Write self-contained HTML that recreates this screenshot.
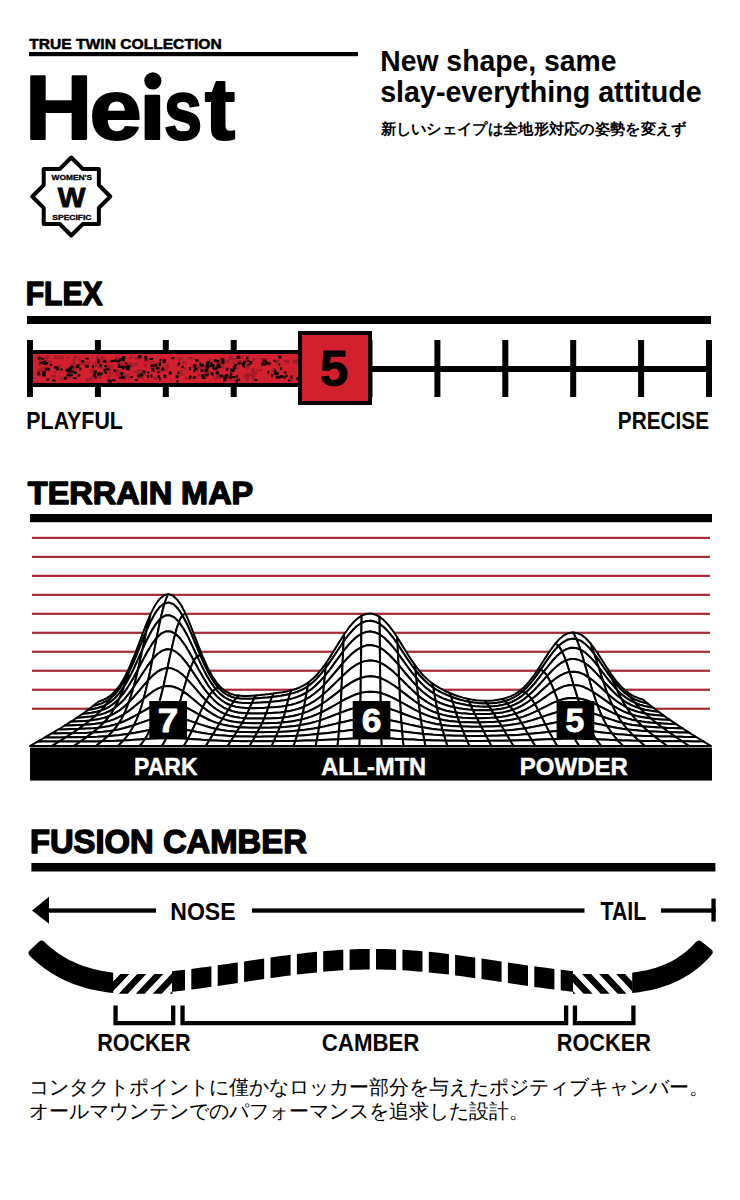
<!DOCTYPE html>
<html><head><meta charset="utf-8"><style>
html,body{margin:0;padding:0;background:#fff;}
svg{display:block;}
text{font-family:"Liberation Sans",sans-serif;}
</style></head><body>
<svg width="740" height="1200" viewBox="0 0 740 1200">
<rect width="740" height="1200" fill="#fff"/>
<rect x="29" y="52" width="329" height="4.2"/>
<text x="380.2" y="71.3" font-size="28.6" font-weight="bold" textLength="236.4" lengthAdjust="spacingAndGlyphs">New shape, same</text>
<text x="380.2" y="101.6" font-size="28.6" font-weight="bold" textLength="321.4" lengthAdjust="spacingAndGlyphs">slay-everything attitude</text>
<text x="380.5" y="134" font-size="15" font-weight="bold" textLength="306" lengthAdjust="spacingAndGlyphs">新しいシェイプは全地形対応の姿勢を変えず</text>
<path d="M71.30,157.50 L59.88,168.92 L43.72,168.92 L43.72,185.08 L32.30,196.50 L43.72,207.92 L43.72,224.08 L59.88,224.08 L71.30,235.50 L82.72,224.08 L98.88,224.08 L98.88,207.92 L110.30,196.50 L98.88,185.08 L98.88,168.92 L82.72,168.92Z" fill="#fff" stroke="#000" stroke-width="4" stroke-linejoin="round"/>
<rect x="27" y="316" width="684" height="8"/>
<rect x="27" y="366" width="684" height="6"/>
<rect x="27.0" y="340" width="6" height="57"/>
<rect x="94.9" y="340" width="6" height="57"/>
<rect x="162.8" y="340" width="6" height="57"/>
<rect x="230.7" y="340" width="6" height="57"/>
<rect x="298.6" y="340" width="6" height="57"/>
<rect x="366.5" y="340" width="6" height="57"/>
<rect x="434.4" y="340" width="6" height="57"/>
<rect x="502.3" y="340" width="6" height="57"/>
<rect x="570.2" y="340" width="6" height="57"/>
<rect x="638.1" y="340" width="6" height="57"/>
<rect x="706.0" y="340" width="6" height="57"/>
<rect x="27" y="350" width="275" height="37"/>
<rect x="33" y="354" width="270" height="29" fill="#d3202e"/>
<path d="M73.8 355.4h4.0v2.9h-4.0zM149.7 361.0h5.2v2.1h-5.2zM271.7 368.1h4.2v3.6h-4.2zM96.3 358.4h3.2v2.1h-3.2zM116.4 369.3h4.1v2.5h-4.1zM188.2 357.0h5.3v2.3h-5.3zM100.8 358.7h4.8v3.7h-4.8zM240.1 356.4h3.6v2.7h-3.6zM90.7 377.3h2.2v3.0h-2.2zM233.5 377.7h2.6v2.9h-2.6zM229.2 355.9h3.0v3.8h-3.0zM71.1 364.0h3.2v2.8h-3.2zM54.0 355.8h6.0v3.5h-6.0zM226.3 360.3h3.0v3.1h-3.0zM97.3 365.6h5.7v2.7h-5.7zM122.3 377.6h4.4v2.1h-4.4zM139.6 369.9h2.2v2.7h-2.2zM216.0 374.9h4.4v3.8h-4.4zM155.2 364.0h5.4v2.8h-5.4zM238.7 360.0h3.4v2.4h-3.4zM178.0 358.8h2.8v2.4h-2.8zM156.5 362.1h3.8v4.0h-3.8zM211.9 374.8h2.8v2.8h-2.8zM53.1 370.9h3.5v2.5h-3.5zM38.9 359.2h3.0v2.8h-3.0zM276.0 371.4h3.1v2.7h-3.1zM74.2 376.5h3.4v3.5h-3.4zM223.5 375.9h2.1v2.6h-2.1zM134.7 356.9h5.5v2.7h-5.5zM235.9 366.9h2.2v2.8h-2.2zM96.4 355.9h2.6v3.2h-2.6zM42.3 362.2h3.7v3.1h-3.7zM69.6 371.3h3.0v3.5h-3.0zM208.5 358.4h2.8v2.6h-2.8zM220.7 364.3h3.5v3.7h-3.5zM93.2 361.7h3.4v2.4h-3.4zM44.7 355.6h4.5v3.1h-4.5zM245.9 377.4h3.2v3.3h-3.2zM274.8 360.0h4.8v3.3h-4.8zM284.2 375.0h2.9v3.3h-2.9zM57.6 364.8h3.6v2.1h-3.6zM134.4 362.5h4.0v2.6h-4.0zM75.6 364.3h3.9v2.3h-3.9zM208.3 360.5h2.4v2.7h-2.4zM144.6 358.5h4.3v3.4h-4.3zM178.9 371.1h2.1v2.8h-2.1zM129.4 356.4h3.6v2.1h-3.6zM163.8 368.5h3.9v2.7h-3.9zM100.4 355.5h3.4v3.8h-3.4zM182.2 361.0h4.7v2.4h-4.7zM156.9 369.2h5.8v2.7h-5.8zM185.0 376.7h5.1v3.3h-5.1zM196.7 364.5h3.7v2.6h-3.7zM251.4 375.2h3.5v3.8h-3.5zM44.0 358.1h4.0v2.6h-4.0zM128.4 377.5h2.6v2.4h-2.6zM93.9 370.6h2.9v2.0h-2.9zM176.5 364.1h3.0v3.0h-3.0zM204.3 367.6h4.5v3.1h-4.5zM251.7 377.3h3.3v2.7h-3.3zM266.2 362.2h4.9v3.4h-4.9zM213.9 377.2h5.3v2.3h-5.3zM196.9 366.3h4.3v2.7h-4.3zM108.9 372.2h4.1v2.5h-4.1zM99.3 362.5h2.7v3.0h-2.7zM67.0 356.5h2.3v2.2h-2.3zM218.7 357.6h3.8v3.5h-3.8zM159.9 358.7h5.5v3.7h-5.5zM48.0 360.8h4.0v3.6h-4.0zM136.8 371.5h3.0v3.4h-3.0zM119.6 362.7h5.0v3.7h-5.0zM251.1 368.1h3.7v3.4h-3.7zM197.2 374.1h5.2v2.3h-5.2zM132.8 370.4h2.9v2.4h-2.9zM37.6 368.5h5.8v3.9h-5.8zM69.0 370.8h3.7v3.3h-3.7zM137.9 376.5h6.0v2.1h-6.0zM220.9 357.7h2.2v2.6h-2.2zM225.6 377.9h2.5v2.7h-2.5zM40.9 367.5h3.9v2.7h-3.9zM115.0 373.4h5.4v2.6h-5.4zM136.6 369.2h5.1v4.0h-5.1zM136.0 371.0h4.2v3.6h-4.2zM72.5 359.0h2.4v3.9h-2.4zM99.9 366.2h2.5v2.6h-2.5zM39.0 368.0h2.6v3.3h-2.6zM105.8 360.2h3.9v2.7h-3.9zM102.0 356.2h2.3v3.8h-2.3zM115.0 356.8h2.7v3.0h-2.7zM295.3 359.7h5.5v3.0h-5.5zM142.6 373.6h3.6v2.1h-3.6zM178.2 370.1h4.5v2.6h-4.5zM280.0 374.9h6.0v2.9h-6.0zM252.4 371.7h2.7v2.1h-2.7zM78.2 357.7h2.3v2.7h-2.3zM231.4 362.1h4.1v2.0h-4.1zM89.1 377.1h2.0v3.1h-2.0zM246.2 373.2h4.9v2.8h-4.9zM244.4 374.0h5.1v4.0h-5.1zM60.4 376.9h3.6v3.4h-3.6zM99.6 375.9h2.1v3.2h-2.1zM93.5 363.9h3.5v3.3h-3.5zM246.4 363.4h4.6v2.7h-4.6zM107.2 375.8h3.3v2.2h-3.3zM121.7 372.1h2.8v3.5h-2.8zM177.1 370.6h2.7v2.2h-2.7zM71.5 363.1h3.7v2.0h-3.7zM165.7 364.3h3.3v3.1h-3.3zM283.5 359.7h5.5v2.6h-5.5zM231.6 357.5h6.0v2.9h-6.0zM286.2 360.1h3.6v3.4h-3.6zM80.6 361.3h4.7v3.9h-4.7zM118.4 359.2h3.4v4.0h-3.4zM72.8 369.6h3.5v3.3h-3.5zM89.6 369.2h5.6v3.7h-5.6zM198.7 366.6h4.3v2.2h-4.3zM253.4 370.9h3.8v3.3h-3.8zM143.9 363.8h2.9v3.2h-2.9zM184.1 366.9h2.1v3.3h-2.1zM151.1 368.6h4.4v3.9h-4.4zM73.8 365.8h6.0v3.5h-6.0zM116.0 371.9h6.0v2.8h-6.0zM261.3 357.9h6.0v3.0h-6.0zM95.3 374.3h4.6v3.9h-4.6zM251.3 373.3h4.0v4.0h-4.0zM51.0 375.0h4.8v2.5h-4.8zM245.5 365.4h4.1v3.7h-4.1zM85.3 361.4h4.6v2.1h-4.6zM179.4 373.1h4.0v2.5h-4.0zM243.6 374.7h5.1v3.1h-5.1zM271.3 373.3h2.6v2.7h-2.6zM60.3 355.8h3.4v3.7h-3.4zM252.5 357.7h2.7v2.8h-2.7zM256.5 369.2h5.6v2.1h-5.6zM292.8 359.8h4.5v3.8h-4.5zM224.6 359.5h4.7v2.9h-4.7zM38.0 362.8h3.3v3.3h-3.3zM107.0 368.9h4.8v2.4h-4.8zM67.5 371.0h3.9v2.3h-3.9zM64.4 376.6h4.4v2.7h-4.4zM85.4 377.9h4.8v3.5h-4.8zM128.4 362.1h3.6v2.3h-3.6zM199.4 364.8h5.3v2.8h-5.3zM153.7 366.6h5.8v2.7h-5.8zM218.3 360.4h4.3v2.6h-4.3zM262.6 361.6h5.4v3.4h-5.4zM153.2 376.5h3.6v3.5h-3.6zM191.5 365.3h2.3v2.8h-2.3zM107.7 365.1h5.8v2.6h-5.8zM216.1 370.5h3.0v2.8h-3.0zM68.6 375.6h3.0v2.8h-3.0zM123.5 373.9h5.4v3.2h-5.4zM177.0 357.3h5.6v2.2h-5.6zM129.3 363.6h4.9v3.3h-4.9zM124.1 375.7h5.8v2.0h-5.8zM199.8 365.8h3.4v2.9h-3.4zM116.8 370.4h4.4v3.9h-4.4zM289.8 377.8h3.6v3.7h-3.6zM204.3 371.1h6.0v2.1h-6.0zM155.1 364.2h4.6v2.4h-4.6z" fill="#7a1c22" opacity="0.55"/>
<path d="M147.0 371.6h2.5v2.5h-2.5zM156.0 366.7h3.5v2.5h-3.5zM157.3 371.3h2.0v2.0h-2.0zM151.2 368.2h3.0v2.5h-3.0zM201.7 376.8h2.5v2.0h-2.5zM234.2 364.0h3.0v2.0h-3.0zM237.6 361.7h3.0v3.0h-3.0zM296.5 377.4h2.5v3.0h-2.5zM37.5 373.4h3.0v2.0h-3.0zM45.2 367.5h2.5v3.0h-2.5zM47.9 367.8h2.0v3.0h-2.0zM49.8 364.1h2.5v2.0h-2.5zM54.2 365.9h3.0v2.5h-3.0zM221.5 360.9h3.0v3.0h-3.0zM217.8 363.4h2.5v2.0h-2.5zM107.5 379.3h2.5v3.0h-2.5zM112.1 379.2h3.5v2.0h-3.5zM108.9 379.8h3.0v3.0h-3.0zM37.3 371.8h2.5v2.5h-2.5zM42.3 371.3h3.5v3.0h-3.5zM42.2 373.9h3.5v2.5h-3.5zM262.0 363.2h3.5v2.5h-3.5zM262.7 359.5h3.5v2.5h-3.5zM212.7 364.0h2.0v2.0h-2.0zM225.9 367.8h2.5v3.0h-2.5zM215.7 371.5h3.5v3.0h-3.5zM215.3 367.7h2.0v2.5h-2.0zM94.2 376.4h2.5v2.0h-2.5zM56.4 367.2h3.0v2.5h-3.0zM55.9 367.4h3.0v3.0h-3.0zM200.5 369.3h3.0v3.0h-3.0zM205.0 365.6h2.0v2.0h-2.0zM163.4 374.7h3.0v3.0h-3.0zM161.6 367.4h2.5v3.0h-2.5zM158.7 377.5h2.0v3.0h-2.0zM278.4 355.8h3.0v3.0h-3.0zM278.6 355.7h2.0v2.0h-2.0zM130.7 376.0h2.0v2.0h-2.0zM137.1 375.1h2.0v2.5h-2.0zM139.7 373.5h3.5v3.0h-3.5zM137.7 374.4h3.0v2.5h-3.0zM213.8 358.9h3.0v3.0h-3.0zM216.4 360.0h3.0v2.5h-3.0zM205.0 373.5h3.5v3.0h-3.5zM202.7 377.0h3.0v2.0h-3.0zM223.2 377.5h3.0v3.0h-3.0zM229.1 376.3h3.0v3.0h-3.0zM219.4 374.6h3.5v3.0h-3.5zM120.7 375.4h3.0v3.0h-3.0zM122.1 376.3h3.0v2.5h-3.0zM43.8 370.8h2.0v3.0h-2.0zM46.3 378.4h3.0v2.0h-3.0zM215.1 366.3h3.0v2.0h-3.0zM216.7 363.7h3.0v2.5h-3.0zM209.8 364.9h2.5v2.0h-2.5zM208.2 365.0h3.0v2.5h-3.0zM150.3 364.2h3.5v3.0h-3.5zM164.0 375.5h2.0v2.5h-2.0zM157.7 375.0h2.0v3.0h-2.0zM176.2 379.9h2.0v3.0h-2.0zM175.6 375.2h3.0v3.0h-3.0zM177.2 371.7h2.0v2.5h-2.0zM249.7 360.9h2.5v3.0h-2.5zM79.3 367.7h2.0v2.5h-2.0zM70.2 370.3h3.5v2.5h-3.5zM67.3 368.1h3.5v3.0h-3.5zM73.5 371.6h3.5v2.5h-3.5zM113.4 359.4h3.5v2.0h-3.5zM110.3 360.2h2.0v2.0h-2.0zM111.7 359.9h3.5v2.0h-3.5zM168.7 371.5h3.0v3.0h-3.0zM93.8 370.6h3.0v3.0h-3.0zM103.8 370.3h2.0v3.0h-2.0zM105.3 372.1h2.0v2.0h-2.0zM85.2 364.8h3.5v3.0h-3.5zM92.0 365.2h2.0v3.0h-2.0zM85.6 357.7h3.0v2.0h-3.0zM126.7 365.1h3.5v2.5h-3.5zM126.8 365.4h3.5v2.5h-3.5zM99.8 372.5h3.0v2.5h-3.0zM98.6 373.0h2.5v2.5h-2.5zM217.6 365.8h3.5v2.5h-3.5zM92.8 373.7h3.0v3.0h-3.0zM60.2 368.6h2.5v2.0h-2.5zM65.4 368.7h3.5v3.0h-3.5zM67.8 370.2h2.5v2.5h-2.5zM254.3 379.0h3.0v2.0h-3.0zM233.0 365.8h2.5v3.0h-2.5zM242.6 364.9h2.5v2.5h-2.5zM233.2 366.1h3.0v3.0h-3.0zM241.2 362.6h2.0v2.0h-2.0zM118.5 358.1h3.5v3.0h-3.5zM121.9 356.8h2.0v2.5h-2.0zM122.4 356.1h3.0v3.0h-3.0zM143.3 371.2h2.0v2.0h-2.0zM206.0 363.2h3.0v3.0h-3.0zM206.6 361.1h3.0v2.0h-3.0zM212.0 365.7h2.5v3.0h-2.5zM206.1 366.0h2.5v3.0h-2.5zM43.0 360.8h3.5v3.0h-3.5zM43.9 362.1h2.0v3.0h-2.0zM39.4 361.8h3.5v2.0h-3.5zM134.8 378.9h3.0v2.0h-3.0zM159.2 358.9h2.0v2.0h-2.0zM163.4 359.3h2.5v3.0h-2.5zM162.7 360.2h3.0v3.0h-3.0zM52.1 379.4h3.5v2.0h-3.5zM287.8 379.6h2.5v2.0h-2.5zM285.5 374.6h2.0v2.5h-2.0zM284.0 371.5h2.5v2.0h-2.5zM280.1 374.9h3.0v3.0h-3.0zM189.1 375.4h2.5v3.0h-2.5zM193.2 369.5h2.0v3.0h-2.0zM194.7 367.6h3.0v3.0h-3.0zM192.7 376.2h3.5v2.5h-3.5zM206.4 373.3h2.5v2.0h-2.5zM201.5 374.0h3.0v3.0h-3.0zM41.5 357.6h2.0v2.5h-2.0zM37.7 356.5h3.0v3.0h-3.0zM159.2 361.9h2.0v2.0h-2.0zM154.4 363.7h2.5v3.0h-2.5zM158.6 362.9h2.5v3.0h-2.5zM77.4 374.5h3.0v2.0h-3.0zM72.8 376.9h3.5v2.0h-3.5zM147.1 375.0h2.0v3.0h-2.0zM150.5 374.4h2.0v3.0h-2.0zM142.4 370.2h3.0v3.0h-3.0zM151.3 368.6h3.0v3.0h-3.0zM265.3 361.6h3.0v3.0h-3.0zM261.2 362.6h3.0v3.0h-3.0zM275.3 372.2h3.5v2.5h-3.5zM279.9 367.3h2.0v3.0h-2.0zM213.1 367.6h3.0v2.5h-3.0zM216.0 367.1h2.5v2.0h-2.5zM235.9 375.3h2.0v2.5h-2.0zM225.3 374.0h3.0v2.0h-3.0zM231.9 376.0h3.5v2.0h-3.5zM125.0 362.5h2.5v2.0h-2.5zM230.3 368.5h3.5v3.0h-3.5zM231.8 368.9h3.0v3.0h-3.0zM209.9 361.9h3.0v3.0h-3.0zM267.3 370.7h2.0v3.0h-2.0zM229.9 372.4h2.5v2.5h-2.5zM225.9 375.3h2.5v3.0h-2.5zM223.2 378.5h3.0v3.0h-3.0zM223.4 375.3h3.0v2.0h-3.0zM121.2 357.9h2.0v3.0h-2.0zM116.4 360.1h2.0v2.5h-2.0zM80.7 360.0h3.5v2.5h-3.5zM76.4 364.3h3.0v2.5h-3.0zM277.4 375.8h3.0v3.0h-3.0zM270.9 374.2h2.0v3.0h-2.0zM277.2 376.3h2.5v2.5h-2.5zM275.8 375.8h3.5v3.0h-3.5zM246.0 356.5h2.5v3.0h-2.5zM195.1 359.0h3.5v2.5h-3.5zM103.6 368.5h2.5v2.5h-2.5zM106.6 368.2h3.0v2.0h-3.0zM274.2 371.9h3.5v3.0h-3.5zM42.5 360.7h3.0v2.5h-3.0zM45.0 362.0h3.0v2.5h-3.0zM283.2 376.4h2.5v2.0h-2.5zM210.6 372.2h3.0v3.0h-3.0zM99.3 364.1h2.5v2.5h-2.5zM97.2 372.8h3.5v3.0h-3.5zM104.7 368.5h3.5v2.0h-3.5zM98.1 372.0h2.0v3.0h-2.0zM116.6 360.6h3.0v2.0h-3.0zM121.6 365.8h2.5v2.5h-2.5zM118.9 366.1h3.0v2.0h-3.0zM118.0 363.8h2.0v3.0h-2.0zM144.6 357.9h2.5v2.5h-2.5zM144.3 356.0h3.0v3.0h-3.0zM138.0 355.3h3.5v3.0h-3.5zM149.6 358.1h3.5v2.0h-3.5zM103.2 360.2h3.0v2.5h-3.0zM97.3 361.0h2.0v2.5h-2.0zM104.2 365.1h3.0v2.5h-3.0zM126.0 367.6h3.5v2.5h-3.5zM127.5 368.2h2.5v2.0h-2.5zM70.5 365.5h3.0v3.0h-3.0zM69.7 368.3h2.5v2.5h-2.5zM75.8 365.9h3.5v2.0h-3.5zM68.8 367.1h3.0v2.5h-3.0zM66.6 373.3h3.5v3.0h-3.5zM69.4 374.3h3.5v2.0h-3.5zM64.2 376.8h2.5v3.0h-2.5zM229.8 373.6h2.0v2.5h-2.0zM235.5 379.7h2.5v3.0h-2.5zM237.1 378.6h3.0v2.5h-3.0zM121.8 366.6h3.0v3.0h-3.0zM200.3 363.8h3.5v3.0h-3.5zM193.3 364.3h3.0v3.0h-3.0zM194.1 366.5h2.0v3.0h-2.0zM189.0 367.3h2.0v3.0h-2.0zM273.1 359.8h3.0v2.0h-3.0zM274.0 369.6h2.5v3.0h-2.5zM278.2 363.2h2.0v2.5h-2.0zM268.1 362.6h2.5v2.0h-2.5zM298.8 371.8h3.0v2.0h-3.0zM246.6 359.9h3.0v2.0h-3.0zM242.9 360.8h3.0v3.0h-3.0zM247.5 363.4h2.5v2.0h-2.5zM242.1 362.9h3.0v3.0h-3.0zM122.9 358.9h2.0v2.5h-2.0zM117.8 365.7h3.0v2.0h-3.0zM124.9 365.7h3.5v2.5h-3.5zM118.1 359.8h2.0v2.0h-2.0zM120.5 372.3h2.5v3.0h-2.5zM113.1 369.1h3.0v3.0h-3.0zM118.7 376.8h3.0v2.0h-3.0zM221.3 358.0h3.0v3.0h-3.0zM218.1 364.7h2.0v2.5h-2.0zM290.4 375.5h2.0v3.0h-2.0zM296.3 377.3h3.5v2.0h-3.5zM171.0 357.3h3.5v2.0h-3.5zM181.2 365.7h2.5v2.5h-2.5zM177.9 362.5h2.0v2.5h-2.0zM236.7 355.8h3.5v3.0h-3.5zM206.0 361.7h3.5v2.5h-3.5zM199.3 362.4h2.0v3.0h-2.0zM205.4 368.5h3.0v2.5h-3.0zM204.7 369.0h3.5v3.0h-3.5zM97.2 359.0h2.5v3.0h-2.5z" fill="#160606"/>
<rect x="298" y="331" width="74" height="74"/>
<rect x="302" y="335" width="66" height="66" fill="#d3202e"/>
<rect x="30" y="514" width="682" height="8.2"/>
<rect x="32" y="536.80" width="678" height="2.2" fill="#a82a36"/>
<rect x="32" y="555.78" width="678" height="2.2" fill="#a82a36"/>
<rect x="32" y="574.76" width="678" height="2.2" fill="#a82a36"/>
<rect x="32" y="593.74" width="678" height="2.2" fill="#a82a36"/>
<rect x="32" y="612.72" width="678" height="2.2" fill="#a82a36"/>
<rect x="32" y="631.70" width="678" height="2.2" fill="#a82a36"/>
<rect x="32" y="650.68" width="678" height="2.2" fill="#a82a36"/>
<rect x="32" y="669.66" width="678" height="2.2" fill="#a82a36"/>
<rect x="32" y="688.64" width="678" height="2.2" fill="#a82a36"/>
<rect x="32" y="707.62" width="678" height="2.2" fill="#a82a36"/>
<g fill="#fff" stroke="#000" stroke-width="2.0" stroke-linejoin="round"><path d="M93.0 706.1L97.5 704.9L101.9 703.4L106.4 701.2L110.9 698.1L112.1 696.3L113.3 694.5L114.5 692.6L115.6 690.7L111.2 695.0L106.8 698.1L102.4 700.3L98.0 701.9L96.8 703.0L95.5 704.0L94.3 705.0Z"/><path d="M630.1 696.9L634.6 699.4L639.1 701.2L643.5 702.6L648.0 703.7L646.7 702.7L645.5 701.7L644.2 700.6L643.0 699.6L638.6 698.2L634.2 696.3L629.8 693.8L625.4 690.5L626.5 692.1L627.7 693.8L628.9 695.4Z"/><path d="M110.9 698.1L115.4 693.9L119.8 688.4L124.3 681.4L128.8 672.9L129.9 669.3L131.0 665.7L132.1 662.1L133.2 658.5L128.8 668.8L124.4 677.7L120.0 685.0L115.6 690.7L114.5 692.6L113.3 694.5L112.1 696.3Z"/><path d="M612.2 679.5L616.7 685.0L621.2 689.8L625.6 693.8L630.1 696.9L628.9 695.4L627.7 693.8L626.5 692.1L625.4 690.5L621.0 686.4L616.6 681.5L612.2 675.7L607.8 669.2L608.9 671.7L610.0 674.3L611.1 676.9Z"/><path d="M128.8 672.9L133.3 663.0L137.8 652.2L142.2 641.0L146.7 630.2L147.7 625.7L148.8 621.4L149.8 617.3L150.8 613.6L146.4 623.9L142.0 635.4L137.6 647.2L133.2 658.5L132.1 662.1L131.0 665.7L129.9 669.3Z"/><path d="M594.3 654.0L598.8 660.2L603.2 666.8L607.7 673.3L612.2 679.5L611.1 676.9L610.0 674.3L608.9 671.7L607.8 669.2L603.4 662.3L599.0 655.4L594.6 648.8L590.2 643.0L591.2 645.5L592.2 648.2L593.3 651.0Z"/><path d="M146.7 630.2L151.2 620.4L155.7 612.4L160.1 606.7L164.6 603.4L165.6 600.5L166.5 598.0L167.4 595.9L168.3 594.2L164.0 595.3L159.6 598.9L155.2 605.0L150.8 613.6L149.8 617.3L148.8 621.4L147.7 625.7Z"/><path d="M576.4 639.1L580.9 640.9L585.3 644.1L589.8 648.5L594.3 654.0L593.3 651.0L592.2 648.2L591.2 645.5L590.2 643.0L585.8 638.3L581.4 634.9L577.0 633.0L572.7 632.4L573.6 633.7L574.5 635.3L575.4 637.1Z"/><path d="M164.6 603.4L169.1 602.6L173.6 604.4L178.0 608.8L182.5 615.5L183.4 614.7L184.2 614.3L185.1 614.2L185.9 614.4L181.5 605.8L177.1 599.4L172.7 595.5L168.3 594.2L167.4 595.9L166.5 598.0L165.6 600.5Z"/><path d="M558.5 646.0L563.0 642.3L567.4 639.8L571.9 638.8L576.4 639.1L575.4 637.1L574.5 635.3L573.6 633.7L572.7 632.4L568.3 633.2L563.9 635.3L559.5 638.9L555.1 643.8L555.9 644.1L556.8 644.5L557.6 645.2Z"/><path d="M182.5 615.5L187.0 624.2L191.5 634.3L195.9 645.1L200.4 655.9L201.2 656.3L202.0 656.8L202.7 657.6L203.5 658.5L199.1 647.6L194.7 636.1L190.3 624.8L185.9 614.4L185.1 614.2L184.2 614.3L183.4 614.7Z"/><path d="M540.6 669.9L545.1 663.3L549.5 656.9L554.0 651.0L558.5 646.0L557.6 645.2L556.8 644.5L555.9 644.1L555.1 643.8L550.7 649.8L546.3 656.4L541.9 663.3L537.5 670.1L538.3 669.9L539.0 669.8L539.8 669.7Z"/><path d="M200.4 655.9L204.9 665.9L209.4 674.7L213.8 682.1L218.3 687.8L219.0 687.7L219.7 687.7L220.4 687.7L221.1 687.7L216.7 682.9L212.3 676.3L207.9 668.2L203.5 658.5L202.7 657.6L202.0 656.8L201.2 656.3Z"/><path d="M522.7 691.5L527.2 687.2L531.6 682.1L536.1 676.2L540.6 669.9L539.8 669.7L539.0 669.8L538.3 669.9L537.5 670.1L533.1 676.5L528.7 682.1L524.3 686.9L519.9 690.8L520.6 690.9L521.3 691.1L522.0 691.3Z"/><path d="M218.3 687.8L222.8 692.1L227.3 695.0L231.7 697.0L236.2 698.1L236.8 697.4L237.5 696.7L238.1 696.2L238.7 695.6L234.3 694.9L229.9 693.5L225.5 691.2L221.1 687.7L220.4 687.7L219.7 687.7L219.0 687.7Z"/><path d="M504.8 701.2L509.3 699.7L513.7 697.7L518.2 695.0L522.7 691.5L522.0 691.3L521.3 691.1L520.6 690.9L519.9 690.8L515.5 693.8L511.1 696.1L506.7 697.8L502.3 699.0L502.9 699.5L503.5 700.1L504.2 700.6Z"/><path d="M236.2 698.1L240.7 698.7L245.2 698.8L249.7 698.8L254.1 698.5L254.7 697.6L255.2 696.8L255.7 696.0L256.2 695.4L251.8 695.7L247.5 695.9L243.1 695.9L238.7 695.6L238.1 696.2L237.5 696.7L236.8 697.4Z"/><path d="M486.9 703.5L491.3 703.3L495.8 702.9L500.3 702.2L504.8 701.2L504.2 700.6L503.5 700.1L502.9 699.5L502.3 699.0L497.9 699.8L493.5 700.4L489.2 700.7L484.8 700.7L485.3 701.4L485.8 702.1L486.3 702.7Z"/><path d="M254.1 698.5L258.6 698.2L263.1 697.8L267.6 697.4L272.0 696.9L272.5 695.9L272.9 695.0L273.4 694.1L273.8 693.4L269.4 694.0L265.0 694.5L260.6 694.9L256.2 695.4L255.7 696.0L255.2 696.8L254.7 697.6Z"/><path d="M469.0 701.8L473.4 702.6L477.9 703.1L482.4 703.4L486.9 703.5L486.3 702.7L485.8 702.1L485.3 701.4L484.8 700.7L480.4 700.6L476.0 700.2L471.6 699.6L467.2 698.7L467.6 699.4L468.1 700.2L468.5 701.0Z"/><path d="M272.0 696.9L276.5 696.4L281.0 695.8L285.5 695.0L289.9 694.1L290.3 693.0L290.7 692.0L291.0 691.1L291.4 690.3L287.0 691.4L282.6 692.2L278.2 692.8L273.8 693.4L273.4 694.1L272.9 695.0L272.5 695.9Z"/><path d="M451.1 696.7L455.5 698.3L460.0 699.7L464.5 700.9L469.0 701.8L468.5 701.0L468.1 700.2L467.6 699.4L467.2 698.7L462.8 697.6L458.4 696.3L454.0 694.7L449.6 693.0L450.0 693.7L450.3 694.6L450.7 695.6Z"/><path d="M289.9 694.1L294.4 692.9L298.9 691.2L303.4 689.1L307.8 686.4L308.1 685.1L308.4 683.9L308.7 682.9L309.0 682.0L304.6 684.9L300.2 687.2L295.8 689.0L291.4 690.3L291.0 691.1L290.7 692.0L290.3 693.0Z"/><path d="M433.2 687.6L437.6 690.5L442.1 692.8L446.6 694.9L451.1 696.7L450.7 695.6L450.3 694.6L450.0 693.7L449.6 693.0L445.2 691.0L440.8 688.7L436.4 686.2L432.0 683.2L432.3 684.1L432.6 685.1L432.9 686.3Z"/><path d="M307.8 686.4L312.3 682.9L316.8 678.7L321.3 673.7L325.7 667.9L325.9 666.3L326.2 664.8L326.4 663.4L326.6 662.3L322.2 668.4L317.8 673.7L313.4 678.2L309.0 682.0L308.7 682.9L308.4 683.9L308.1 685.1Z"/><path d="M415.3 670.1L419.7 675.5L424.2 680.3L428.7 684.3L433.2 687.6L432.9 686.3L432.6 685.1L432.3 684.1L432.0 683.2L427.6 679.6L423.2 675.3L418.8 670.2L414.4 664.4L414.6 665.6L414.8 667.0L415.1 668.4Z"/><path d="M325.7 667.9L330.2 661.6L334.7 655.0L339.2 648.2L343.6 641.6L343.8 639.5L343.9 637.7L344.0 636.0L344.1 634.5L339.7 641.4L335.3 648.5L330.9 655.6L326.6 662.3L326.4 663.4L326.2 664.8L325.9 666.3Z"/><path d="M397.4 643.8L401.8 650.6L406.3 657.4L410.8 664.0L415.3 670.1L415.1 668.4L414.8 667.0L414.6 665.6L414.4 664.4L410.1 658.0L405.7 651.0L401.3 643.9L396.9 636.9L397.0 638.3L397.1 640.0L397.2 641.8Z"/><path d="M343.6 641.6L348.1 635.5L352.6 630.3L357.1 626.0L361.5 623.0L361.6 620.8L361.6 618.9L361.7 617.1L361.7 615.6L357.3 618.6L352.9 622.8L348.5 628.2L344.1 634.5L344.0 636.0L343.9 637.7L343.8 639.5Z"/><path d="M379.5 623.9L383.9 627.3L388.4 631.9L392.9 637.5L397.4 643.8L397.2 641.8L397.1 640.0L397.0 638.3L396.9 636.9L392.5 630.3L388.1 624.6L383.7 620.0L379.3 616.6L379.3 618.1L379.4 619.8L379.4 621.7Z"/><path d="M361.5 623.0L366.0 621.3L370.5 620.8L375.0 621.7L379.5 623.9L379.4 621.7L379.4 619.8L379.3 618.1L379.3 616.6L374.9 614.4L370.5 613.6L366.1 614.0L361.7 615.6L361.7 617.1L361.6 618.9L361.6 620.8Z"/><path d="M87.8 710.1L92.3 709.3L96.9 708.3L101.4 706.8L106.0 704.8L107.2 703.2L108.5 701.6L109.7 699.9L110.9 698.1L106.4 701.2L101.9 703.4L97.5 704.9L93.0 706.1L91.7 707.1L90.4 708.1L89.1 709.1Z"/><path d="M635.0 702.9L639.6 704.7L644.1 706.0L648.7 707.0L653.2 707.8L651.9 706.8L650.6 705.7L649.3 704.7L648.0 703.7L643.5 702.6L639.1 701.2L634.6 699.4L630.1 696.9L631.3 698.5L632.5 700.0L633.8 701.5Z"/><path d="M106.0 704.8L110.6 701.9L115.1 698.0L119.7 692.9L124.2 686.4L125.4 683.2L126.5 679.8L127.7 676.4L128.8 672.9L124.3 681.4L119.8 688.4L115.4 693.9L110.9 698.1L109.7 699.9L108.5 701.6L107.2 703.2Z"/><path d="M616.8 689.7L621.3 694.1L625.9 697.7L630.4 700.7L635.0 702.9L633.8 701.5L632.5 700.0L631.3 698.5L630.1 696.9L625.6 693.8L621.2 689.8L616.7 685.0L612.2 679.5L613.3 682.1L614.5 684.7L615.6 687.2Z"/><path d="M124.2 686.4L128.8 678.6L133.4 669.6L137.9 659.7L142.5 649.5L143.6 644.6L144.6 639.7L145.7 634.9L146.7 630.2L142.2 641.0L137.8 652.2L133.3 663.0L128.8 672.9L127.7 676.4L126.5 679.8L125.4 683.2Z"/><path d="M598.5 667.0L603.1 673.0L607.6 679.0L612.2 684.6L616.8 689.7L615.6 687.2L614.5 684.7L613.3 682.1L612.2 679.5L607.7 673.3L603.2 666.8L598.8 660.2L594.3 654.0L595.3 657.1L596.4 660.4L597.4 663.7Z"/><path d="M142.5 649.5L147.0 639.7L151.6 630.9L156.2 623.6L160.7 618.5L161.7 614.2L162.7 610.2L163.7 606.6L164.6 603.4L160.1 606.7L155.7 612.4L151.2 620.4L146.7 630.2L145.7 634.9L144.6 639.7L143.6 644.6Z"/><path d="M580.3 649.5L584.8 652.3L589.4 656.4L594.0 661.4L598.5 667.0L597.4 663.7L596.4 660.4L595.3 657.1L594.3 654.0L589.8 648.5L585.3 644.1L580.9 640.9L576.4 639.1L577.3 641.4L578.3 643.9L579.3 646.6Z"/><path d="M160.7 618.5L165.3 615.6L169.8 615.3L174.4 617.5L179.0 622.1L179.9 619.9L180.8 618.1L181.6 616.6L182.5 615.5L178.0 608.8L173.6 604.4L169.1 602.6L164.6 603.4L163.7 606.6L162.7 610.2L161.7 614.2Z"/><path d="M562.0 651.7L566.6 649.1L571.2 647.8L575.7 648.0L580.3 649.5L579.3 646.6L578.3 643.9L577.3 641.4L576.4 639.1L571.9 638.8L567.4 639.8L563.0 642.3L558.5 646.0L559.4 647.1L560.2 648.4L561.1 649.9Z"/><path d="M179.0 622.1L183.5 628.7L188.1 637.1L192.6 646.6L197.2 656.5L198.0 656.0L198.8 655.7L199.6 655.7L200.4 655.9L195.9 645.1L191.5 634.3L187.0 624.2L182.5 615.5L181.6 616.6L180.8 618.1L179.9 619.9Z"/><path d="M543.8 671.7L548.4 665.8L552.9 660.3L557.5 655.5L562.0 651.7L561.1 649.9L560.2 648.4L559.4 647.1L558.5 646.0L554.0 651.0L549.5 656.9L545.1 663.3L540.6 669.9L541.4 670.1L542.2 670.5L543.0 671.0Z"/><path d="M197.2 656.5L201.8 666.1L206.3 675.0L210.9 682.7L215.5 689.0L216.2 688.6L216.9 688.2L217.6 688.0L218.3 687.8L213.8 682.1L209.4 674.7L204.9 665.9L200.4 655.9L199.6 655.7L198.8 655.7L198.0 656.0Z"/><path d="M525.5 693.0L530.1 688.5L534.7 683.4L539.2 677.7L543.8 671.7L543.0 671.0L542.2 670.5L541.4 670.1L540.6 669.9L536.1 676.2L531.6 682.1L527.2 687.2L522.7 691.5L523.4 691.8L524.1 692.2L524.8 692.6Z"/><path d="M215.5 689.0L220.0 693.9L224.6 697.4L229.1 699.9L233.7 701.5L234.3 700.6L235.0 699.7L235.6 698.9L236.2 698.1L231.7 697.0L227.3 695.0L222.8 692.1L218.3 687.8L217.6 688.0L216.9 688.2L216.2 688.6Z"/><path d="M507.3 703.7L511.9 702.0L516.4 699.7L521.0 696.7L525.5 693.0L524.8 692.6L524.1 692.2L523.4 691.8L522.7 691.5L518.2 695.0L513.7 697.7L509.3 699.7L504.8 701.2L505.4 701.8L506.0 702.4L506.7 703.0Z"/><path d="M233.7 701.5L238.3 702.4L242.8 702.9L247.4 703.1L251.9 703.0L252.5 701.8L253.0 700.7L253.6 699.6L254.1 698.5L249.7 698.8L245.2 698.8L240.7 698.7L236.2 698.1L235.6 698.9L235.0 699.7L234.3 700.6Z"/><path d="M489.1 706.6L493.6 706.3L498.2 705.8L502.7 704.9L507.3 703.7L506.7 703.0L506.0 702.4L505.4 701.8L504.8 701.2L500.3 702.2L495.8 702.9L491.3 703.3L486.9 703.5L487.4 704.2L488.0 705.0L488.5 705.8Z"/><path d="M251.9 703.0L256.5 702.8L261.1 702.6L265.6 702.3L270.2 701.9L270.6 700.5L271.1 699.3L271.6 698.0L272.0 696.9L267.6 697.4L263.1 697.8L258.6 698.2L254.1 698.5L253.6 699.6L253.0 700.7L252.5 701.8Z"/><path d="M470.8 705.7L475.4 706.2L479.9 706.5L484.5 706.7L489.1 706.6L488.5 705.8L488.0 705.0L487.4 704.2L486.9 703.5L482.4 703.4L477.9 703.1L473.4 702.6L469.0 701.8L469.4 702.8L469.9 703.7L470.4 704.7Z"/><path d="M270.2 701.9L274.7 701.5L279.3 701.0L283.9 700.3L288.4 699.5L288.8 698.0L289.2 696.6L289.6 695.3L289.9 694.1L285.5 695.0L281.0 695.8L276.5 696.4L272.0 696.9L271.6 698.0L271.1 699.3L270.6 700.5Z"/><path d="M452.6 701.8L457.1 703.1L461.7 704.1L466.3 705.0L470.8 705.7L470.4 704.7L469.9 703.7L469.4 702.8L469.0 701.8L464.5 700.9L460.0 699.7L455.5 698.3L451.1 696.7L451.4 697.9L451.8 699.1L452.2 700.5Z"/><path d="M288.4 699.5L293.0 698.4L297.5 696.9L302.1 695.0L306.7 692.5L307.0 690.8L307.3 689.3L307.5 687.8L307.8 686.4L303.4 689.1L298.9 691.2L294.4 692.9L289.9 694.1L289.6 695.3L289.2 696.6L288.8 698.0Z"/><path d="M434.3 693.9L438.9 696.5L443.5 698.6L448.0 700.3L452.6 701.8L452.2 700.5L451.8 699.1L451.4 697.9L451.1 696.7L446.6 694.9L442.1 692.8L437.6 690.5L433.2 687.6L433.5 689.1L433.7 690.6L434.0 692.3Z"/><path d="M306.7 692.5L311.2 689.4L315.8 685.5L320.3 681.0L324.9 675.8L325.1 673.7L325.3 671.7L325.5 669.7L325.7 667.9L321.3 673.7L316.8 678.7L312.3 682.9L307.8 686.4L307.5 687.8L307.3 689.3L307.0 690.8Z"/><path d="M416.1 677.7L420.7 682.8L425.2 687.2L429.8 690.9L434.3 693.9L434.0 692.3L433.7 690.6L433.5 689.1L433.2 687.6L428.7 684.3L424.2 680.3L419.7 675.5L415.3 670.1L415.5 671.8L415.7 673.7L415.9 675.7Z"/><path d="M324.9 675.8L329.5 670.1L334.0 663.9L338.6 657.7L343.1 651.6L343.3 648.8L343.4 646.3L343.5 643.9L343.6 641.6L339.2 648.2L334.7 655.0L330.2 661.6L325.7 667.9L325.5 669.7L325.3 671.7L325.1 673.7Z"/><path d="M397.9 653.4L402.4 659.6L407.0 666.0L411.5 672.1L416.1 677.7L415.9 675.7L415.7 673.7L415.5 671.8L415.3 670.1L410.8 664.0L406.3 657.4L401.8 650.6L397.4 643.8L397.5 646.0L397.6 648.3L397.7 650.8Z"/><path d="M343.1 651.6L347.7 645.9L352.3 640.9L356.8 636.8L361.4 633.8L361.4 630.8L361.5 628.0L361.5 625.4L361.5 623.0L357.1 626.0L352.6 630.3L348.1 635.5L343.6 641.6L343.5 643.9L343.4 646.3L343.3 648.8Z"/><path d="M379.6 634.5L384.2 637.8L388.7 642.2L393.3 647.5L397.9 653.4L397.7 650.8L397.6 648.3L397.5 646.0L397.4 643.8L392.9 637.5L388.4 631.9L383.9 627.3L379.5 623.9L379.5 626.3L379.5 628.8L379.6 631.6Z"/><path d="M361.4 633.8L365.9 632.1L370.5 631.6L375.1 632.4L379.6 634.5L379.6 631.6L379.5 628.8L379.5 626.3L379.5 623.9L375.0 621.7L370.5 620.8L366.0 621.3L361.5 623.0L361.5 625.4L361.5 628.0L361.4 630.8Z"/><path d="M82.3 714.0L87.0 713.5L91.6 712.8L96.3 711.9L100.9 710.6L102.2 709.2L103.5 707.8L104.8 706.3L106.0 704.8L101.4 706.8L96.9 708.3L92.3 709.3L87.8 710.1L86.4 711.1L85.1 712.1L83.7 713.0Z"/><path d="M640.1 708.5L644.7 709.7L649.4 710.6L654.0 711.3L658.7 711.9L657.3 710.8L655.9 709.8L654.6 708.8L653.2 707.8L648.7 707.0L644.1 706.0L639.6 704.7L635.0 702.9L636.2 704.4L637.5 705.8L638.8 707.2Z"/><path d="M100.9 710.6L105.6 708.8L110.2 706.2L114.9 702.8L119.5 698.3L120.7 695.5L121.9 692.6L123.1 689.6L124.2 686.4L119.7 692.9L115.1 698.0L110.6 701.9L106.0 704.8L104.8 706.3L103.5 707.8L102.2 709.2Z"/><path d="M621.5 699.1L626.1 702.3L630.8 704.9L635.4 706.9L640.1 708.5L638.8 707.2L637.5 705.8L636.2 704.4L635.0 702.9L630.4 700.7L625.9 697.7L621.3 694.1L616.8 689.7L617.9 692.1L619.1 694.5L620.3 696.9Z"/><path d="M119.5 698.3L124.2 692.6L128.8 685.7L133.5 677.9L138.1 669.2L139.2 664.4L140.3 659.5L141.4 654.5L142.5 649.5L137.9 659.7L133.4 669.6L128.8 678.6L124.2 686.4L123.1 689.6L121.9 692.6L120.7 695.5Z"/><path d="M602.9 680.6L607.5 685.8L612.2 690.8L616.8 695.2L621.5 699.1L620.3 696.9L619.1 694.5L617.9 692.1L616.8 689.7L612.2 684.6L607.6 679.0L603.1 673.0L598.5 667.0L599.6 670.4L600.7 673.8L601.8 677.2Z"/><path d="M138.1 669.2L142.8 660.4L147.4 651.8L152.0 644.2L156.7 637.9L157.7 632.8L158.7 627.8L159.7 623.0L160.7 618.5L156.2 623.6L151.6 630.9L147.0 639.7L142.5 649.5L141.4 654.5L140.3 659.5L139.2 664.4Z"/><path d="M584.3 662.7L589.0 666.1L593.6 670.5L598.2 675.4L602.9 680.6L601.8 677.2L600.7 673.8L599.6 670.4L598.5 667.0L594.0 661.4L589.4 656.4L584.8 652.3L580.3 649.5L581.3 652.6L582.3 655.8L583.3 659.2Z"/><path d="M156.7 637.9L161.3 633.6L166.0 631.4L170.6 631.5L175.3 633.8L176.2 630.4L177.1 627.3L178.1 624.5L179.0 622.1L174.4 617.5L169.8 615.3L165.3 615.6L160.7 618.5L159.7 623.0L158.7 627.8L157.7 632.8Z"/><path d="M565.7 660.5L570.4 659.1L575.0 659.1L579.7 660.3L584.3 662.7L583.3 659.2L582.3 655.8L581.3 652.6L580.3 649.5L575.7 648.0L571.2 647.8L566.6 649.1L562.0 651.7L562.9 653.6L563.9 655.7L564.8 658.0Z"/><path d="M175.3 633.8L179.9 638.3L184.6 644.6L189.2 652.2L193.9 660.7L194.7 659.3L195.6 658.1L196.4 657.2L197.2 656.5L192.6 646.6L188.1 637.1L183.5 628.7L179.0 622.1L178.1 624.5L177.1 627.3L176.2 630.4Z"/><path d="M547.1 676.0L551.8 671.0L556.4 666.6L561.1 663.0L565.7 660.5L564.8 658.0L563.9 655.7L562.9 653.6L562.0 651.7L557.5 655.5L552.9 660.3L548.4 665.8L543.8 671.7L544.6 672.6L545.4 673.6L546.3 674.7Z"/><path d="M193.9 660.7L198.5 669.3L203.2 677.6L207.8 685.1L212.5 691.5L213.2 690.7L214.0 690.1L214.7 689.5L215.5 689.0L210.9 682.7L206.3 675.0L201.8 666.1L197.2 656.5L196.4 657.2L195.6 658.1L194.7 659.3Z"/><path d="M528.5 695.5L533.2 691.2L537.8 686.4L542.5 681.2L547.1 676.0L546.3 674.7L545.4 673.6L544.6 672.6L543.8 671.7L539.2 677.7L534.7 683.4L530.1 688.5L525.5 693.0L526.3 693.5L527.0 694.1L527.8 694.8Z"/><path d="M212.5 691.5L217.1 696.7L221.8 700.6L226.4 703.5L231.1 705.5L231.7 704.5L232.4 703.5L233.0 702.5L233.7 701.5L229.1 699.9L224.6 697.4L220.0 693.9L215.5 689.0L214.7 689.5L214.0 690.1L213.2 690.7Z"/><path d="M509.9 706.6L514.6 704.7L519.2 702.3L523.9 699.3L528.5 695.5L527.8 694.8L527.0 694.1L526.3 693.5L525.5 693.0L521.0 696.7L516.4 699.7L511.9 702.0L507.3 703.7L508.0 704.4L508.6 705.1L509.3 705.8Z"/><path d="M231.1 705.5L235.7 706.8L240.4 707.6L245.0 708.0L249.7 708.2L250.2 706.8L250.8 705.5L251.4 704.3L251.9 703.0L247.4 703.1L242.8 702.9L238.3 702.4L233.7 701.5L233.0 702.5L232.4 703.5L231.7 704.5Z"/><path d="M491.3 710.0L496.0 709.6L500.6 708.9L505.3 707.9L509.9 706.6L509.3 705.8L508.6 705.1L508.0 704.4L507.3 703.7L502.7 704.9L498.2 705.8L493.6 706.3L489.1 706.6L489.6 707.4L490.2 708.2L490.8 709.1Z"/><path d="M249.7 708.2L254.3 708.2L259.0 708.1L263.6 707.9L268.2 707.6L268.7 706.2L269.2 704.7L269.7 703.3L270.2 701.9L265.6 702.3L261.1 702.6L256.5 702.8L251.9 703.0L251.4 704.3L250.8 705.5L250.2 706.8Z"/><path d="M472.8 709.9L477.4 710.2L482.0 710.3L486.7 710.2L491.3 710.0L490.8 709.1L490.2 708.2L489.6 707.4L489.1 706.6L484.5 706.7L479.9 706.5L475.4 706.2L470.8 705.7L471.3 706.8L471.8 707.8L472.3 708.9Z"/><path d="M268.2 707.6L272.9 707.3L277.5 706.9L282.2 706.4L286.8 705.6L287.2 704.1L287.6 702.5L288.0 701.0L288.4 699.5L283.9 700.3L279.3 701.0L274.7 701.5L270.2 701.9L269.7 703.3L269.2 704.7L268.7 706.2Z"/><path d="M454.2 707.3L458.8 708.2L463.5 709.0L468.1 709.5L472.8 709.9L472.3 708.9L471.8 707.8L471.3 706.8L470.8 705.7L466.3 705.0L461.7 704.1L457.1 703.1L452.6 701.8L453.0 703.2L453.4 704.6L453.8 706.0Z"/><path d="M286.8 705.6L291.5 704.7L296.1 703.4L300.8 701.7L305.4 699.6L305.7 697.8L306.0 696.0L306.4 694.2L306.7 692.5L302.1 695.0L297.5 696.9L293.0 698.4L288.4 699.5L288.0 701.0L287.6 702.5L287.2 704.1Z"/><path d="M435.6 700.8L440.2 703.0L444.9 704.8L449.5 706.2L454.2 707.3L453.8 706.0L453.4 704.6L453.0 703.2L452.6 701.8L448.0 700.3L443.5 698.6L438.9 696.5L434.3 693.9L434.6 695.7L435.0 697.4L435.3 699.1Z"/><path d="M305.4 699.6L310.1 696.8L314.7 693.5L319.4 689.5L324.0 685.0L324.2 682.6L324.5 680.3L324.7 678.0L324.9 675.8L320.3 681.0L315.8 685.5L311.2 689.4L306.7 692.5L306.4 694.2L306.0 696.0L305.7 697.8Z"/><path d="M417.0 686.4L421.6 690.9L426.3 694.8L430.9 698.1L435.6 700.8L435.3 699.1L435.0 697.4L434.6 695.7L434.3 693.9L429.8 690.9L425.2 687.2L420.7 682.8L416.1 677.7L416.3 679.8L416.5 682.0L416.8 684.2Z"/><path d="M324.0 685.0L328.7 679.9L333.3 674.5L338.0 669.0L342.6 663.5L342.7 660.4L342.9 657.4L343.0 654.4L343.1 651.6L338.6 657.7L334.0 663.9L329.5 670.1L324.9 675.8L324.7 678.0L324.5 680.3L324.2 682.6Z"/><path d="M398.4 664.7L403.0 670.3L407.7 676.0L412.3 681.4L417.0 686.4L416.8 684.2L416.5 682.0L416.3 679.8L416.1 677.7L411.5 672.1L407.0 666.0L402.4 659.6L397.9 653.4L398.0 656.1L398.1 658.9L398.3 661.8Z"/><path d="M342.6 663.5L347.3 658.4L351.9 653.8L356.6 650.1L361.2 647.3L361.2 643.7L361.3 640.3L361.3 637.0L361.4 633.8L356.8 636.8L352.3 640.9L347.7 645.9L343.1 651.6L343.0 654.4L342.9 657.4L342.7 660.4Z"/><path d="M379.8 647.7L384.4 650.7L389.1 654.7L393.7 659.5L398.4 664.7L398.3 661.8L398.1 658.9L398.0 656.1L397.9 653.4L393.3 647.5L388.7 642.2L384.2 637.8L379.6 634.5L379.7 637.6L379.7 640.9L379.8 644.2Z"/><path d="M361.2 647.3L365.9 645.6L370.5 645.1L375.1 645.9L379.8 647.7L379.8 644.2L379.7 640.9L379.7 637.6L379.6 634.5L375.1 632.4L370.5 631.6L365.9 632.1L361.4 633.8L361.3 637.0L361.3 640.3L361.2 643.7Z"/><path d="M76.7 717.9L81.4 717.5L86.2 717.1L90.9 716.5L95.6 715.7L97.0 714.5L98.3 713.2L99.6 711.9L100.9 710.6L96.3 711.9L91.6 712.8L87.0 713.5L82.3 714.0L80.9 715.0L79.5 716.0L78.1 716.9Z"/><path d="M645.4 713.6L650.1 714.4L654.8 715.0L659.6 715.5L664.3 716.0L662.9 714.9L661.5 713.9L660.1 712.9L658.7 711.9L654.0 711.3L649.4 710.6L644.7 709.7L640.1 708.5L641.4 709.8L642.7 711.1L644.0 712.4Z"/><path d="M95.6 715.7L100.4 714.6L105.1 713.1L109.9 711.0L114.6 708.1L115.8 705.8L117.1 703.5L118.3 700.9L119.5 698.3L114.9 702.8L110.2 706.2L105.6 708.8L100.9 710.6L99.6 711.9L98.3 713.2L97.0 714.5Z"/><path d="M626.4 707.4L631.1 709.6L635.9 711.3L640.6 712.6L645.4 713.6L644.0 712.4L642.7 711.1L641.4 709.8L640.1 708.5L635.4 706.9L630.8 704.9L626.1 702.3L621.5 699.1L622.7 701.3L623.9 703.4L625.2 705.4Z"/><path d="M114.6 708.1L119.3 704.3L124.1 699.6L128.8 693.8L133.6 687.3L134.7 683.0L135.9 678.6L137.0 674.0L138.1 669.2L133.5 677.9L128.8 685.7L124.2 692.6L119.5 698.3L118.3 700.9L117.1 703.5L115.8 705.8Z"/><path d="M607.4 693.6L612.2 697.7L616.9 701.5L621.7 704.7L626.4 707.4L625.2 705.4L623.9 703.4L622.7 701.3L621.5 699.1L616.8 695.2L612.2 690.8L607.5 685.8L602.9 680.6L604.0 684.0L605.1 687.3L606.3 690.5Z"/><path d="M133.6 687.3L138.3 680.1L143.0 672.8L147.8 665.7L152.5 659.4L153.6 654.0L154.6 648.6L155.7 643.2L156.7 637.9L152.0 644.2L147.4 651.8L142.8 660.4L138.1 669.2L137.0 674.0L135.9 678.6L134.7 683.0Z"/><path d="M588.5 677.3L593.2 680.8L598.0 684.9L602.7 689.3L607.4 693.6L606.3 690.5L605.1 687.3L604.0 684.0L602.9 680.6L598.2 675.4L593.6 670.5L589.0 666.1L584.3 662.7L585.3 666.2L586.4 669.9L587.4 673.6Z"/><path d="M152.5 659.4L157.2 654.3L162.0 650.9L166.7 649.3L171.5 649.7L172.4 645.4L173.4 641.4L174.3 637.5L175.3 633.8L170.6 631.5L166.0 631.4L161.3 633.6L156.7 637.9L155.7 643.2L154.6 648.6L153.6 654.0Z"/><path d="M569.5 671.9L574.3 671.7L579.0 672.5L583.8 674.4L588.5 677.3L587.4 673.6L586.4 669.9L585.3 666.2L584.3 662.7L579.7 660.3L575.0 659.1L570.4 659.1L565.7 660.5L566.7 663.1L567.6 665.9L568.6 668.9Z"/><path d="M171.5 649.7L176.2 652.1L180.9 656.2L185.7 661.8L190.4 668.4L191.3 666.1L192.2 664.1L193.0 662.3L193.9 660.7L189.2 652.2L184.6 644.6L179.9 638.3L175.3 633.8L174.3 637.5L173.4 641.4L172.4 645.4Z"/><path d="M550.6 682.6L555.3 678.8L560.1 675.6L564.8 673.3L569.5 671.9L568.6 668.9L567.6 665.9L566.7 663.1L565.7 660.5L561.1 663.0L556.4 666.6L551.8 671.0L547.1 676.0L548.0 677.4L548.8 679.0L549.7 680.8Z"/><path d="M190.4 668.4L195.2 675.5L199.9 682.6L204.6 689.4L209.4 695.4L210.2 694.3L210.9 693.3L211.7 692.3L212.5 691.5L207.8 685.1L203.2 677.6L198.5 669.3L193.9 660.7L193.0 662.3L192.2 664.1L191.3 666.1Z"/><path d="M531.6 699.3L536.4 695.4L541.1 691.1L545.8 686.8L550.6 682.6L549.7 680.8L548.8 679.0L548.0 677.4L547.1 676.0L542.5 681.2L537.8 686.4L533.2 691.2L528.5 695.5L529.3 696.4L530.1 697.3L530.8 698.2Z"/><path d="M209.4 695.4L214.1 700.4L218.9 704.5L223.6 707.6L228.3 709.8L229.0 708.7L229.7 707.7L230.4 706.6L231.1 705.5L226.4 703.5L221.8 700.6L217.1 696.7L212.5 691.5L211.7 692.3L210.9 693.3L210.2 694.3Z"/><path d="M512.7 709.9L517.4 708.0L522.1 705.7L526.9 702.7L531.6 699.3L530.8 698.2L530.1 697.3L529.3 696.4L528.5 695.5L523.9 699.3L519.2 702.3L514.6 704.7L509.9 706.6L510.6 707.4L511.3 708.2L512.0 709.0Z"/><path d="M228.3 709.8L233.1 711.4L237.8 712.4L242.5 713.0L247.3 713.3L247.9 712.1L248.5 710.8L249.1 709.5L249.7 708.2L245.0 708.0L240.4 707.6L235.7 706.8L231.1 705.5L230.4 706.6L229.7 707.7L229.0 708.7Z"/><path d="M493.7 713.6L498.5 713.1L503.2 712.4L507.9 711.3L512.7 709.9L512.0 709.0L511.3 708.2L510.6 707.4L509.9 706.6L505.3 707.9L500.6 708.9L496.0 709.6L491.3 710.0L491.9 710.9L492.5 711.8L493.1 712.7Z"/><path d="M247.3 713.3L252.0 713.5L256.8 713.5L261.5 713.5L266.2 713.3L266.8 711.9L267.3 710.5L267.8 709.1L268.2 707.6L263.6 707.9L259.0 708.1L254.3 708.2L249.7 708.2L249.1 709.5L248.5 710.8L247.9 712.1Z"/><path d="M474.8 714.1L479.5 714.1L484.2 714.1L489.0 713.9L493.7 713.6L493.1 712.7L492.5 711.8L491.9 710.9L491.3 710.0L486.7 710.2L482.0 710.3L477.4 710.2L472.8 709.9L473.2 711.0L473.7 712.0L474.2 713.0Z"/><path d="M266.2 713.3L271.0 713.1L275.7 712.8L280.5 712.4L285.2 711.8L285.6 710.3L286.0 708.7L286.4 707.2L286.8 705.6L282.2 706.4L277.5 706.9L272.9 707.3L268.2 707.6L267.8 709.1L267.3 710.5L266.8 711.9Z"/><path d="M455.8 712.6L460.5 713.2L465.3 713.6L470.0 713.9L474.8 714.1L474.2 713.0L473.7 712.0L473.2 711.0L472.8 709.9L468.1 709.5L463.5 709.0L458.8 708.2L454.2 707.3L454.6 708.7L455.0 710.0L455.4 711.3Z"/><path d="M285.2 711.8L289.9 711.0L294.7 709.9L299.4 708.5L304.2 706.7L304.5 705.0L304.8 703.2L305.1 701.4L305.4 699.6L300.8 701.7L296.1 703.4L291.5 704.7L286.8 705.6L286.4 707.2L286.0 708.7L285.6 710.3Z"/><path d="M436.8 707.5L441.6 709.2L446.3 710.7L451.1 711.7L455.8 712.6L455.4 711.3L455.0 710.0L454.6 708.7L454.2 707.3L449.5 706.2L444.9 704.8L440.2 703.0L435.6 700.8L435.9 702.5L436.2 704.2L436.5 705.8Z"/><path d="M304.2 706.7L308.9 704.4L313.6 701.7L318.4 698.4L323.1 694.5L323.3 692.2L323.6 689.8L323.8 687.4L324.0 685.0L319.4 689.5L314.7 693.5L310.1 696.8L305.4 699.6L305.1 701.4L304.8 703.2L304.5 705.0Z"/><path d="M417.9 695.4L422.6 699.2L427.4 702.4L432.1 705.2L436.8 707.5L436.5 705.8L436.2 704.2L435.9 702.5L435.6 700.8L430.9 698.1L426.3 694.8L421.6 690.9L417.0 686.4L417.2 688.7L417.4 690.9L417.7 693.1Z"/><path d="M323.1 694.5L327.8 690.3L332.6 685.8L337.3 681.1L342.1 676.4L342.2 673.2L342.3 669.9L342.5 666.7L342.6 663.5L338.0 669.0L333.3 674.5L328.7 679.9L324.0 685.0L323.8 687.4L323.6 689.8L323.3 692.2Z"/><path d="M398.9 677.1L403.7 681.8L408.4 686.6L413.2 691.1L417.9 695.4L417.7 693.1L417.4 690.9L417.2 688.7L417.0 686.4L412.3 681.4L407.7 676.0L403.0 670.3L398.4 664.7L398.5 667.8L398.7 670.8L398.8 674.0Z"/><path d="M342.1 676.4L346.8 672.0L351.5 668.1L356.3 664.8L361.0 662.4L361.1 658.5L361.1 654.7L361.2 651.0L361.2 647.3L356.6 650.1L351.9 653.8L347.3 658.4L342.6 663.5L342.5 666.7L342.3 669.9L342.2 673.2Z"/><path d="M380.0 662.6L384.7 665.2L389.5 668.6L394.2 672.6L398.9 677.1L398.8 674.0L398.7 670.8L398.5 667.8L398.4 664.7L393.7 659.5L389.1 654.7L384.4 650.7L379.8 647.7L379.8 651.4L379.9 655.1L379.9 658.8Z"/><path d="M361.0 662.4L365.8 660.9L370.5 660.4L375.2 661.0L380.0 662.6L379.9 658.8L379.9 655.1L379.8 651.4L379.8 647.7L375.1 645.9L370.5 645.1L365.9 645.6L361.2 647.3L361.2 651.0L361.1 654.7L361.1 658.5Z"/><path d="M70.8 721.7L75.7 721.5L80.5 721.2L85.3 720.9L90.2 720.4L91.5 719.3L92.9 718.1L94.3 716.9L95.6 715.7L90.9 716.5L86.2 717.1L81.4 717.5L76.7 717.9L75.2 718.8L73.8 719.8L72.3 720.8Z"/><path d="M650.8 718.5L655.7 719.0L660.5 719.4L665.3 719.8L670.2 720.1L668.7 719.0L667.2 718.0L665.8 717.0L664.3 716.0L659.6 715.5L654.8 715.0L650.1 714.4L645.4 713.6L646.7 714.9L648.1 716.1L649.5 717.3Z"/><path d="M90.2 720.4L95.0 719.8L99.8 718.9L104.7 717.7L109.5 716.0L110.8 714.2L112.1 712.2L113.3 710.2L114.6 708.1L109.9 711.0L105.1 713.1L100.4 714.6L95.6 715.7L94.3 716.9L92.9 718.1L91.5 719.3Z"/><path d="M631.5 714.5L636.3 715.9L641.2 717.0L646.0 717.8L650.8 718.5L649.5 717.3L648.1 716.1L646.7 714.9L645.4 713.6L640.6 712.6L635.9 711.3L631.1 709.6L626.4 707.4L627.7 709.3L628.9 711.1L630.2 712.9Z"/><path d="M109.5 716.0L114.3 713.7L119.2 710.7L124.0 706.9L128.8 702.4L130.0 698.9L131.2 695.2L132.4 691.3L133.6 687.3L128.8 693.8L124.1 699.6L119.3 704.3L114.6 708.1L113.3 710.2L112.1 712.2L110.8 714.2Z"/><path d="M612.2 705.1L617.0 708.1L621.8 710.6L626.7 712.8L631.5 714.5L630.2 712.9L628.9 711.1L627.7 709.3L626.4 707.4L621.7 704.7L616.9 701.5L612.2 697.7L607.4 693.6L608.6 696.6L609.8 699.6L611.0 702.4Z"/><path d="M128.8 702.4L133.7 697.2L138.5 691.6L143.3 685.8L148.2 680.3L149.3 675.2L150.4 670.1L151.4 664.8L152.5 659.4L147.8 665.7L143.0 672.8L138.3 680.1L133.6 687.3L132.4 691.3L131.2 695.2L130.0 698.9Z"/><path d="M592.8 691.8L597.7 695.0L602.5 698.4L607.3 701.8L612.2 705.1L611.0 702.4L609.8 699.6L608.6 696.6L607.4 693.6L602.7 689.3L598.0 684.9L593.2 680.8L588.5 677.3L589.6 681.0L590.6 684.6L591.7 688.3Z"/><path d="M148.2 680.3L153.0 675.4L157.8 671.5L162.7 669.0L167.5 668.0L168.5 663.3L169.5 658.7L170.5 654.1L171.5 649.7L166.7 649.3L162.0 650.9L157.2 654.3L152.5 659.4L151.4 664.8L150.4 670.1L149.3 675.2Z"/><path d="M573.5 684.9L578.3 685.4L583.2 686.8L588.0 689.0L592.8 691.8L591.7 688.3L590.6 684.6L589.6 681.0L588.5 677.3L583.8 674.4L579.0 672.5L574.3 671.7L569.5 671.9L570.5 675.1L571.5 678.3L572.5 681.6Z"/><path d="M167.5 668.0L172.3 668.6L177.2 670.8L182.0 674.3L186.8 678.9L187.7 676.1L188.6 673.3L189.5 670.8L190.4 668.4L185.7 661.8L180.9 656.2L176.2 652.1L171.5 649.7L170.5 654.1L169.5 658.7L168.5 663.3Z"/><path d="M554.2 691.1L559.0 688.5L563.8 686.4L568.7 685.2L573.5 684.9L572.5 681.6L571.5 678.3L570.5 675.1L569.5 671.9L564.8 673.3L560.1 675.6L555.3 678.8L550.6 682.6L551.5 684.6L552.4 686.6L553.3 688.8Z"/><path d="M186.8 678.9L191.7 684.3L196.5 689.9L201.3 695.5L206.2 700.7L207.0 699.2L207.8 697.9L208.6 696.6L209.4 695.4L204.6 689.4L199.9 682.6L195.2 675.5L190.4 668.4L189.5 670.8L188.6 673.3L187.7 676.1Z"/><path d="M534.8 704.2L539.7 701.0L544.5 697.6L549.3 694.2L554.2 691.1L553.3 688.8L552.4 686.6L551.5 684.6L550.6 682.6L545.8 686.8L541.1 691.1L536.4 695.4L531.6 699.3L532.4 700.4L533.2 701.6L534.0 702.9Z"/><path d="M206.2 700.7L211.0 705.2L215.8 709.0L220.7 712.0L225.5 714.3L226.2 713.1L226.9 712.0L227.6 710.9L228.3 709.8L223.6 707.6L218.9 704.5L214.1 700.4L209.4 695.4L208.6 696.6L207.8 697.9L207.0 699.2Z"/><path d="M515.5 713.8L520.3 712.0L525.2 709.8L530.0 707.2L534.8 704.2L534.0 702.9L533.2 701.6L532.4 700.4L531.6 699.3L526.9 702.7L522.1 705.7L517.4 708.0L512.7 709.9L513.4 710.8L514.1 711.8L514.8 712.8Z"/><path d="M225.5 714.3L230.3 715.9L235.2 717.0L240.0 717.8L244.8 718.2L245.5 717.0L246.1 715.8L246.7 714.6L247.3 713.3L242.5 713.0L237.8 712.4L233.1 711.4L228.3 709.8L227.6 710.9L226.9 712.0L226.2 713.1Z"/><path d="M496.2 717.4L501.0 716.9L505.8 716.2L510.7 715.1L515.5 713.8L514.8 712.8L514.1 711.8L513.4 710.8L512.7 709.9L507.9 711.3L503.2 712.4L498.5 713.1L493.7 713.6L494.3 714.5L494.9 715.5L495.5 716.5Z"/><path d="M244.8 718.2L249.7 718.5L254.5 718.6L259.3 718.6L264.2 718.6L264.7 717.3L265.2 716.0L265.7 714.7L266.2 713.3L261.5 713.5L256.8 713.5L252.0 713.5L247.3 713.3L246.7 714.6L246.1 715.8L245.5 717.0Z"/><path d="M476.8 718.2L481.7 718.2L486.5 718.0L491.3 717.8L496.2 717.4L495.5 716.5L494.9 715.5L494.3 714.5L493.7 713.6L489.0 713.9L484.2 714.1L479.5 714.1L474.8 714.1L475.3 715.1L475.8 716.1L476.3 717.2Z"/><path d="M264.2 718.6L269.0 718.4L273.8 718.2L278.7 717.9L283.5 717.4L283.9 716.1L284.4 714.7L284.8 713.2L285.2 711.8L280.5 712.4L275.7 712.8L271.0 713.1L266.2 713.3L265.7 714.7L265.2 716.0L264.7 717.3Z"/><path d="M457.5 717.3L462.3 717.8L467.2 718.0L472.0 718.2L476.8 718.2L476.3 717.2L475.8 716.1L475.3 715.1L474.8 714.1L470.0 713.9L465.3 713.6L460.5 713.2L455.8 712.6L456.2 713.8L456.6 715.0L457.1 716.2Z"/><path d="M283.5 717.4L288.3 716.8L293.2 716.0L298.0 714.8L302.8 713.4L303.2 711.8L303.5 710.1L303.8 708.4L304.2 706.7L299.4 708.5L294.7 709.9L289.9 711.0L285.2 711.8L284.8 713.2L284.4 714.7L283.9 716.1Z"/><path d="M438.2 713.5L443.0 714.9L447.8 716.0L452.7 716.8L457.5 717.3L457.1 716.2L456.6 715.0L456.2 713.8L455.8 712.6L451.1 711.7L446.3 710.7L441.6 709.2L436.8 707.5L437.2 709.0L437.5 710.6L437.8 712.1Z"/><path d="M302.8 713.4L307.7 711.6L312.5 709.4L317.3 706.8L322.2 703.8L322.4 701.6L322.6 699.3L322.9 696.9L323.1 694.5L318.4 698.4L313.6 701.7L308.9 704.4L304.2 706.7L303.8 708.4L303.5 710.1L303.2 711.8Z"/><path d="M418.8 704.1L423.7 707.1L428.5 709.6L433.3 711.8L438.2 713.5L437.8 712.1L437.5 710.6L437.2 709.0L436.8 707.5L432.1 705.2L427.4 702.4L422.6 699.2L417.9 695.4L418.1 697.6L418.4 699.8L418.6 701.9Z"/><path d="M322.2 703.8L327.0 700.5L331.8 696.9L336.7 693.1L341.5 689.4L341.6 686.2L341.8 683.0L341.9 679.7L342.1 676.4L337.3 681.1L332.6 685.8L327.8 690.3L323.1 694.5L322.9 696.9L322.6 699.3L322.4 701.6Z"/><path d="M399.5 689.6L404.3 693.4L409.2 697.1L414.0 700.7L418.8 704.1L418.6 701.9L418.4 699.8L418.1 697.6L417.9 695.4L413.2 691.1L408.4 686.6L403.7 681.8L398.9 677.1L399.1 680.2L399.2 683.4L399.4 686.5Z"/><path d="M341.5 689.4L346.3 685.8L351.2 682.6L356.0 680.0L360.8 678.0L360.9 674.1L360.9 670.2L361.0 666.3L361.0 662.4L356.3 664.8L351.5 668.1L346.8 672.0L342.1 676.4L341.9 679.7L341.8 683.0L341.6 686.2Z"/><path d="M380.2 678.0L385.0 680.1L389.8 682.8L394.7 686.0L399.5 689.6L399.4 686.5L399.2 683.4L399.1 680.2L398.9 677.1L394.2 672.6L389.5 668.6L384.7 665.2L380.0 662.6L380.0 666.5L380.1 670.3L380.1 674.2Z"/><path d="M360.8 678.0L365.7 676.7L370.5 676.3L375.3 676.8L380.2 678.0L380.1 674.2L380.1 670.3L380.0 666.5L380.0 662.6L375.2 661.0L370.5 660.4L365.8 660.9L361.0 662.4L361.0 666.3L360.9 670.2L360.9 674.1Z"/><path d="M64.7 725.6L69.6 725.4L74.6 725.3L79.5 725.1L84.4 724.8L85.9 723.7L87.3 722.6L88.7 721.5L90.2 720.4L85.3 720.9L80.5 721.2L75.7 721.5L70.8 721.7L69.3 722.7L67.8 723.7L66.3 724.6Z"/><path d="M656.6 723.1L661.5 723.4L666.4 723.7L671.4 724.0L676.3 724.2L674.7 723.2L673.2 722.1L671.7 721.1L670.2 720.1L665.3 719.8L660.5 719.4L655.7 719.0L650.8 718.5L652.3 719.6L653.7 720.8L655.1 722.0Z"/><path d="M84.4 724.8L89.4 724.4L94.3 723.9L99.2 723.3L104.2 722.4L105.5 720.9L106.9 719.3L108.2 717.7L109.5 716.0L104.7 717.7L99.8 718.9L95.0 719.8L90.2 720.4L88.7 721.5L87.3 722.6L85.9 723.7Z"/><path d="M636.8 720.7L641.8 721.6L646.7 722.2L651.6 722.7L656.6 723.1L655.1 722.0L653.7 720.8L652.3 719.6L650.8 718.5L646.0 717.8L641.2 717.0L636.3 715.9L631.5 714.5L632.8 716.2L634.1 717.7L635.5 719.3Z"/><path d="M104.2 722.4L109.1 721.1L114.0 719.4L119.0 717.1L123.9 714.3L125.1 711.6L126.4 708.7L127.6 705.7L128.8 702.4L124.0 706.9L119.2 710.7L114.3 713.7L109.5 716.0L108.2 717.7L106.9 719.3L105.5 720.9Z"/><path d="M617.1 714.8L622.0 716.7L627.0 718.4L631.9 719.7L636.8 720.7L635.5 719.3L634.1 717.7L632.8 716.2L631.5 714.5L626.7 712.8L621.8 710.6L617.0 708.1L612.2 705.1L613.4 707.7L614.6 710.2L615.9 712.5Z"/><path d="M123.9 714.3L128.8 711.0L133.8 707.1L138.7 703.0L143.6 698.7L144.8 694.4L145.9 689.9L147.0 685.2L148.2 680.3L143.3 685.8L138.5 691.6L133.7 697.2L128.8 702.4L127.6 705.7L126.4 708.7L125.1 711.6Z"/><path d="M597.4 705.1L602.3 707.6L607.2 710.2L612.2 712.6L617.1 714.8L615.9 712.5L614.6 710.2L613.4 707.7L612.2 705.1L607.3 701.8L602.5 698.4L597.7 695.0L592.8 691.8L594.0 695.3L595.1 698.7L596.2 701.9Z"/><path d="M143.6 698.7L148.6 694.7L153.5 691.1L158.4 688.4L163.4 686.6L164.4 682.0L165.4 677.4L166.5 672.7L167.5 668.0L162.7 669.0L157.8 671.5L153.0 675.4L148.2 680.3L147.0 685.2L145.9 689.9L144.8 694.4Z"/><path d="M577.6 698.2L582.6 699.2L587.5 700.7L592.4 702.7L597.4 705.1L596.2 701.9L595.1 698.7L594.0 695.3L592.8 691.8L588.0 689.0L583.2 686.8L578.3 685.4L573.5 684.9L574.5 688.2L575.6 691.6L576.6 694.9Z"/><path d="M163.4 686.6L168.3 686.1L173.2 686.7L178.1 688.5L183.1 691.4L184.0 688.1L185.0 685.0L185.9 681.9L186.8 678.9L182.0 674.3L177.2 670.8L172.3 668.6L167.5 668.0L166.5 672.7L165.4 677.4L164.4 682.0Z"/><path d="M557.9 700.9L562.9 699.3L567.8 698.2L572.7 697.9L577.6 698.2L576.6 694.9L575.6 691.6L574.5 688.2L573.5 684.9L568.7 685.2L563.8 686.4L559.0 688.5L554.2 691.1L555.1 693.5L556.0 695.9L557.0 698.3Z"/><path d="M183.1 691.4L188.0 694.9L192.9 699.0L197.9 703.2L202.8 707.2L203.7 705.5L204.5 703.8L205.3 702.2L206.2 700.7L201.3 695.5L196.5 689.9L191.7 684.3L186.8 678.9L185.9 681.9L185.0 685.0L184.0 688.1Z"/><path d="M538.2 710.3L543.1 707.8L548.1 705.3L553.0 702.9L557.9 700.9L557.0 698.3L556.0 695.9L555.1 693.5L554.2 691.1L549.3 694.2L544.5 697.6L539.7 701.0L534.8 704.2L535.7 705.7L536.5 707.1L537.3 708.7Z"/><path d="M202.8 707.2L207.7 710.9L212.7 714.2L217.6 716.8L222.5 718.9L223.3 717.7L224.0 716.5L224.8 715.4L225.5 714.3L220.7 712.0L215.8 709.0L211.0 705.2L206.2 700.7L205.3 702.2L204.5 703.8L203.7 705.5Z"/><path d="M518.5 718.2L523.4 716.6L528.3 714.8L533.3 712.7L538.2 710.3L537.3 708.7L536.5 707.1L535.7 705.7L534.8 704.2L530.0 707.2L525.2 709.8L520.3 712.0L515.5 713.8L516.2 714.8L517.0 715.9L517.7 717.0Z"/><path d="M222.5 718.9L227.5 720.4L232.4 721.5L237.3 722.3L242.3 722.8L242.9 721.7L243.6 720.5L244.2 719.4L244.8 718.2L240.0 717.8L235.2 717.0L230.3 715.9L225.5 714.3L224.8 715.4L224.0 716.5L223.3 717.7Z"/><path d="M498.7 721.5L503.7 721.0L508.6 720.3L513.5 719.4L518.5 718.2L517.7 717.0L517.0 715.9L516.2 714.8L515.5 713.8L510.7 715.1L505.8 716.2L501.0 716.9L496.2 717.4L496.8 718.4L497.4 719.5L498.1 720.5Z"/><path d="M242.3 722.8L247.2 723.1L252.1 723.3L257.1 723.3L262.0 723.3L262.5 722.2L263.1 721.0L263.6 719.8L264.2 718.6L259.3 718.6L254.5 718.6L249.7 718.5L244.8 718.2L244.2 719.4L243.6 720.5L242.9 721.7Z"/><path d="M479.0 722.4L483.9 722.3L488.9 722.1L493.8 721.9L498.7 721.5L498.1 720.5L497.4 719.5L496.8 718.4L496.2 717.4L491.3 717.8L486.5 718.0L481.7 718.2L476.8 718.2L477.4 719.2L477.9 720.3L478.5 721.3Z"/><path d="M262.0 723.3L266.9 723.2L271.9 723.1L276.8 722.9L281.7 722.5L282.2 721.3L282.6 720.0L283.1 718.7L283.5 717.4L278.7 717.9L273.8 718.2L269.0 718.4L264.2 718.6L263.6 719.8L263.1 721.0L262.5 722.2Z"/><path d="M459.3 721.9L464.2 722.2L469.1 722.3L474.1 722.4L479.0 722.4L478.5 721.3L477.9 720.3L477.4 719.2L476.8 718.2L472.0 718.2L467.2 718.0L462.3 717.8L457.5 717.3L457.9 718.5L458.4 719.6L458.8 720.8Z"/><path d="M281.7 722.5L286.7 722.1L291.6 721.4L296.5 720.6L301.5 719.6L301.8 718.1L302.1 716.6L302.5 715.0L302.8 713.4L298.0 714.8L293.2 716.0L288.3 716.8L283.5 717.4L283.1 718.7L282.6 720.0L282.2 721.3Z"/><path d="M439.5 719.2L444.5 720.2L449.4 721.0L454.3 721.5L459.3 721.9L458.8 720.8L458.4 719.6L457.9 718.5L457.5 717.3L452.7 716.8L447.8 716.0L443.0 714.9L438.2 713.5L438.5 715.0L438.9 716.4L439.2 717.8Z"/><path d="M301.5 719.6L306.4 718.2L311.3 716.6L316.2 714.7L321.2 712.5L321.4 710.4L321.7 708.2L321.9 706.1L322.2 703.8L317.3 706.8L312.5 709.4L307.7 711.6L302.8 713.4L302.5 715.0L302.1 716.6L301.8 718.1Z"/><path d="M419.8 712.3L424.8 714.5L429.7 716.4L434.6 718.0L439.5 719.2L439.2 717.8L438.9 716.4L438.5 715.0L438.2 713.5L433.3 711.8L428.5 709.6L423.7 707.1L418.8 704.1L419.1 706.2L419.3 708.3L419.6 710.3Z"/><path d="M321.2 712.5L326.1 710.0L331.0 707.3L336.0 704.5L340.9 701.7L341.1 698.7L341.2 695.7L341.4 692.5L341.5 689.4L336.7 693.1L331.8 696.9L327.0 700.5L322.2 703.8L321.9 706.1L321.7 708.2L321.4 710.4Z"/><path d="M400.1 701.7L405.0 704.4L410.0 707.2L414.9 709.9L419.8 712.3L419.6 710.3L419.3 708.3L419.1 706.2L418.8 704.1L414.0 700.7L409.2 697.1L404.3 693.4L399.5 689.6L399.6 692.7L399.8 695.7L399.9 698.7Z"/><path d="M340.9 701.7L345.8 699.0L350.8 696.6L355.7 694.5L360.6 693.0L360.7 689.3L360.7 685.6L360.8 681.8L360.8 678.0L356.0 680.0L351.2 682.6L346.3 685.8L341.5 689.4L341.4 692.5L341.2 695.7L341.1 698.7Z"/><path d="M380.4 693.0L385.3 694.5L390.2 696.6L395.2 699.0L400.1 701.7L399.9 698.7L399.8 695.7L399.6 692.7L399.5 689.6L394.7 686.0L389.8 682.8L385.0 680.1L380.2 678.0L380.2 681.9L380.3 685.6L380.3 689.3Z"/><path d="M360.6 693.0L365.6 692.0L370.5 691.7L375.4 692.0L380.4 693.0L380.3 689.3L380.3 685.6L380.2 681.9L380.2 678.0L375.3 676.8L370.5 676.3L365.7 676.7L360.8 678.0L360.8 681.8L360.7 685.6L360.7 689.3Z"/><path d="M58.3 729.5L63.4 729.4L68.4 729.3L73.4 729.1L78.5 729.0L80.0 727.9L81.5 726.9L83.0 725.8L84.4 724.8L79.5 725.1L74.6 725.3L69.6 725.4L64.7 725.6L63.1 726.5L61.6 727.5L60.0 728.5Z"/><path d="M662.5 727.6L667.6 727.9L672.6 728.1L677.6 728.3L682.7 728.4L681.0 727.4L679.4 726.3L677.9 725.3L676.3 724.2L671.4 724.0L666.4 723.7L661.5 723.4L656.6 723.1L658.0 724.3L659.5 725.4L661.0 726.5Z"/><path d="M78.5 729.0L83.5 728.8L88.6 728.5L93.6 728.2L98.6 727.7L100.0 726.5L101.4 725.1L102.8 723.8L104.2 722.4L99.2 723.3L94.3 723.9L89.4 724.4L84.4 724.8L83.0 725.8L81.5 726.9L80.0 727.9Z"/><path d="M642.4 726.2L647.4 726.7L652.4 727.1L657.5 727.4L662.5 727.6L661.0 726.5L659.5 725.4L658.0 724.3L656.6 723.1L651.6 722.7L646.7 722.2L641.8 721.6L636.8 720.7L638.2 722.2L639.6 723.5L641.0 724.9Z"/><path d="M98.6 727.7L103.7 727.1L108.7 726.2L113.7 725.0L118.8 723.4L120.1 721.4L121.4 719.2L122.6 716.8L123.9 714.3L119.0 717.1L114.0 719.4L109.1 721.1L104.2 722.4L102.8 723.8L101.4 725.1L100.0 726.5Z"/><path d="M622.2 722.8L627.3 724.0L632.3 724.9L637.3 725.6L642.4 726.2L641.0 724.9L639.6 723.5L638.2 722.2L636.8 720.7L631.9 719.7L627.0 718.4L622.0 716.7L617.1 714.8L618.4 716.9L619.6 719.0L620.9 720.9Z"/><path d="M118.8 723.4L123.8 721.5L128.8 719.2L133.9 716.5L138.9 713.7L140.1 710.3L141.3 706.7L142.5 702.8L143.6 698.7L138.7 703.0L133.8 707.1L128.8 711.0L123.9 714.3L122.6 716.8L121.4 719.2L120.1 721.4Z"/><path d="M602.1 716.5L607.1 718.2L612.2 719.9L617.2 721.5L622.2 722.8L620.9 720.9L619.6 719.0L618.4 716.9L617.1 714.8L612.2 712.6L607.2 710.2L602.3 707.6L597.4 705.1L598.5 708.1L599.7 711.0L600.9 713.8Z"/><path d="M138.9 713.7L143.9 710.8L149.0 708.0L154.0 705.6L159.0 703.8L160.1 699.7L161.2 695.5L162.3 691.1L163.4 686.6L158.4 688.4L153.5 691.1L148.6 694.7L143.6 698.7L142.5 702.8L141.3 706.7L140.1 710.3Z"/><path d="M582.0 710.7L587.0 711.8L592.0 713.1L597.1 714.7L602.1 716.5L600.9 713.8L599.7 711.0L598.5 708.1L597.4 705.1L592.4 702.7L587.5 700.7L582.6 699.2L577.6 698.2L578.7 701.4L579.8 704.6L580.9 707.7Z"/><path d="M159.0 703.8L164.1 702.8L169.1 702.5L174.1 703.1L179.2 704.5L180.2 701.2L181.1 697.9L182.1 694.6L183.1 691.4L178.1 688.5L173.2 686.7L168.3 686.1L163.4 686.6L162.3 691.1L161.2 695.5L160.1 699.7Z"/><path d="M561.8 711.1L566.9 710.3L571.9 710.0L576.9 710.1L582.0 710.7L580.9 707.7L579.8 704.6L578.7 701.4L577.6 698.2L572.7 697.9L567.8 698.2L562.9 699.3L557.9 700.9L558.9 703.4L559.9 706.0L560.8 708.5Z"/><path d="M179.2 704.5L184.2 706.5L189.2 709.1L194.3 711.9L199.3 714.8L200.2 712.8L201.1 710.9L201.9 709.0L202.8 707.2L197.9 703.2L192.9 699.0L188.0 694.9L183.1 691.4L182.1 694.6L181.1 697.9L180.2 701.2Z"/><path d="M541.7 717.1L546.7 715.4L551.8 713.7L556.8 712.3L561.8 711.1L560.8 708.5L559.9 706.0L558.9 703.4L557.9 700.9L553.0 702.9L548.1 705.3L543.1 707.8L538.2 710.3L539.1 711.9L539.9 713.6L540.8 715.4Z"/><path d="M199.3 714.8L204.4 717.5L209.4 720.0L214.4 722.1L219.5 723.8L220.2 722.5L221.0 721.3L221.8 720.1L222.5 718.9L217.6 716.8L212.7 714.2L207.7 710.9L202.8 707.2L201.9 709.0L201.1 710.9L200.2 712.8Z"/><path d="M521.5 723.1L526.6 721.8L531.6 720.4L536.6 718.8L541.7 717.1L540.8 715.4L539.9 713.6L539.1 711.9L538.2 710.3L533.3 712.7L528.3 714.8L523.4 716.6L518.5 718.2L519.2 719.3L520.0 720.5L520.8 721.8Z"/><path d="M219.5 723.8L224.5 725.1L229.5 726.1L234.6 726.8L239.6 727.2L240.3 726.1L240.9 725.0L241.6 723.9L242.3 722.8L237.3 722.3L232.4 721.5L227.5 720.4L222.5 718.9L221.8 720.1L221.0 721.3L220.2 722.5Z"/><path d="M501.4 725.9L506.4 725.4L511.5 724.8L516.5 724.1L521.5 723.1L520.8 721.8L520.0 720.5L519.2 719.3L518.5 718.2L513.5 719.4L508.6 720.3L503.7 721.0L498.7 721.5L499.4 722.6L500.1 723.7L500.7 724.8Z"/><path d="M239.6 727.2L244.6 727.5L249.7 727.7L254.7 727.8L259.7 727.8L260.3 726.7L260.9 725.6L261.4 724.5L262.0 723.3L257.1 723.3L252.1 723.3L247.2 723.1L242.3 722.8L241.6 723.9L240.9 725.0L240.3 726.1Z"/><path d="M481.3 726.7L486.3 726.6L491.3 726.4L496.4 726.2L501.4 725.9L500.7 724.8L500.1 723.7L499.4 722.6L498.7 721.5L493.8 721.9L488.9 722.1L483.9 722.3L479.0 722.4L479.6 723.4L480.1 724.5L480.7 725.6Z"/><path d="M259.7 727.8L264.8 727.8L269.8 727.7L274.8 727.5L279.9 727.3L280.3 726.1L280.8 724.9L281.3 723.7L281.7 722.5L276.8 722.9L271.9 723.1L266.9 723.2L262.0 723.3L261.4 724.5L260.9 725.6L260.3 726.7Z"/><path d="M461.1 726.5L466.2 726.6L471.2 726.7L476.2 726.7L481.3 726.7L480.7 725.6L480.1 724.5L479.6 723.4L479.0 722.4L474.1 722.4L469.1 722.3L464.2 722.2L459.3 721.9L459.7 723.1L460.2 724.2L460.7 725.3Z"/><path d="M279.9 727.3L284.9 727.0L289.9 726.5L295.0 726.0L300.0 725.2L300.4 723.8L300.7 722.4L301.1 721.0L301.5 719.6L296.5 720.6L291.6 721.4L286.7 722.1L281.7 722.5L281.3 723.7L280.8 724.9L280.3 726.1Z"/><path d="M441.0 724.7L446.0 725.4L451.1 725.9L456.1 726.2L461.1 726.5L460.7 725.3L460.2 724.2L459.7 723.1L459.3 721.9L454.3 721.5L449.4 721.0L444.5 720.2L439.5 719.2L439.9 720.6L440.3 722.0L440.6 723.4Z"/><path d="M300.0 725.2L305.0 724.3L310.1 723.2L315.1 721.9L320.2 720.4L320.4 718.5L320.7 716.5L320.9 714.5L321.2 712.5L316.2 714.7L311.3 716.6L306.4 718.2L301.5 719.6L301.1 721.0L300.7 722.4L300.4 723.8Z"/><path d="M420.8 720.1L425.9 721.6L430.9 722.8L436.0 723.9L441.0 724.7L440.6 723.4L440.3 722.0L439.9 720.6L439.5 719.2L434.6 718.0L429.7 716.4L424.8 714.5L419.8 712.3L420.1 714.3L420.3 716.3L420.6 718.2Z"/><path d="M320.2 720.4L325.2 718.6L330.2 716.8L335.3 714.8L340.3 712.9L340.4 710.2L340.6 707.4L340.8 704.6L340.9 701.7L336.0 704.5L331.0 707.3L326.1 710.0L321.2 712.5L320.9 714.5L320.7 716.5L320.4 718.5Z"/><path d="M400.7 712.8L405.7 714.7L410.8 716.6L415.8 718.4L420.8 720.1L420.6 718.2L420.3 716.3L420.1 714.3L419.8 712.3L414.9 709.9L410.0 707.2L405.0 704.4L400.1 701.7L400.2 704.5L400.4 707.3L400.6 710.1Z"/><path d="M340.3 712.9L345.3 711.0L350.4 709.3L355.4 707.9L360.4 706.8L360.5 703.5L360.5 700.1L360.6 696.6L360.6 693.0L355.7 694.5L350.8 696.6L345.8 699.0L340.9 701.7L340.8 704.6L340.6 707.4L340.4 710.2Z"/><path d="M380.6 706.8L385.6 707.8L390.6 709.2L395.7 710.9L400.7 712.8L400.6 710.1L400.4 707.3L400.2 704.5L400.1 701.7L395.2 699.0L390.2 696.6L385.3 694.5L380.4 693.0L380.4 696.6L380.5 700.1L380.5 703.5Z"/><path d="M360.4 706.8L365.5 706.1L370.5 705.9L375.5 706.1L380.6 706.8L380.5 703.5L380.5 700.1L380.4 696.6L380.4 693.0L375.4 692.0L370.5 691.7L365.6 692.0L360.6 693.0L360.6 696.6L360.5 700.1L360.5 703.5Z"/><path d="M51.7 733.4L56.9 733.4L62.0 733.3L67.1 733.2L72.3 733.2L73.9 732.1L75.4 731.1L77.0 730.0L78.5 729.0L73.4 729.1L68.4 729.3L63.4 729.4L58.3 729.5L56.7 730.4L55.1 731.4L53.4 732.4Z"/><path d="M668.7 732.2L673.9 732.3L679.0 732.4L684.1 732.6L689.3 732.7L687.6 731.6L685.9 730.5L684.3 729.5L682.7 728.4L677.6 728.3L672.6 728.1L667.6 727.9L662.5 727.6L664.0 728.8L665.6 729.9L667.1 731.0Z"/><path d="M72.3 733.2L77.4 733.1L82.6 732.9L87.7 732.8L92.8 732.5L94.3 731.4L95.8 730.2L97.2 729.0L98.6 727.7L93.6 728.2L88.6 728.5L83.5 728.8L78.5 729.0L77.0 730.0L75.4 731.1L73.9 732.1Z"/><path d="M648.2 731.3L653.3 731.6L658.4 731.8L663.6 732.0L668.7 732.2L667.1 731.0L665.6 729.9L664.0 728.8L662.5 727.6L657.5 727.4L652.4 727.1L647.4 726.7L642.4 726.2L643.8 727.5L645.2 728.8L646.7 730.1Z"/><path d="M92.8 732.5L98.0 732.2L103.1 731.8L108.3 731.2L113.4 730.5L114.8 728.9L116.1 727.2L117.4 725.4L118.8 723.4L113.7 725.0L108.7 726.2L103.7 727.1L98.6 727.7L97.2 729.0L95.8 730.2L94.3 731.4Z"/><path d="M627.6 729.5L632.7 730.1L637.9 730.6L643.0 731.0L648.2 731.3L646.7 730.1L645.2 728.8L643.8 727.5L642.4 726.2L637.3 725.6L632.3 724.9L627.3 724.0L622.2 722.8L623.6 724.6L624.9 726.3L626.2 727.9Z"/><path d="M113.4 730.5L118.6 729.5L123.7 728.3L128.8 726.8L134.0 725.2L135.2 722.6L136.5 719.8L137.7 716.9L138.9 713.7L133.9 716.5L128.8 719.2L123.8 721.5L118.8 723.4L117.4 725.4L116.1 727.2L114.8 728.9Z"/><path d="M607.0 725.9L612.2 726.9L617.3 727.9L622.4 728.8L627.6 729.5L626.2 727.9L624.9 726.3L623.6 724.6L622.2 722.8L617.2 721.5L612.2 719.9L607.1 718.2L602.1 716.5L603.3 719.0L604.5 721.4L605.8 723.7Z"/><path d="M134.0 725.2L139.1 723.4L144.3 721.6L149.4 719.9L154.5 718.4L155.7 715.1L156.8 711.5L157.9 707.8L159.0 703.8L154.0 705.6L149.0 708.0L143.9 710.8L138.9 713.7L137.7 716.9L136.5 719.8L135.2 722.6Z"/><path d="M586.5 721.9L591.6 722.7L596.7 723.7L601.9 724.8L607.0 725.9L605.8 723.7L604.5 721.4L603.3 719.0L602.1 716.5L597.1 714.7L592.0 713.1L587.0 711.8L582.0 710.7L583.1 713.7L584.2 716.5L585.3 719.2Z"/><path d="M154.5 718.4L159.7 717.4L164.8 716.8L170.0 716.7L175.1 717.2L176.1 714.1L177.2 710.9L178.2 707.7L179.2 704.5L174.1 703.1L169.1 702.5L164.1 702.8L159.0 703.8L157.9 707.8L156.8 711.5L155.7 715.1Z"/><path d="M565.9 721.1L571.0 720.9L576.2 720.9L581.3 721.2L586.5 721.9L585.3 719.2L584.2 716.5L583.1 713.7L582.0 710.7L576.9 710.1L571.9 710.0L566.9 710.3L561.8 711.1L562.8 713.7L563.8 716.2L564.9 718.7Z"/><path d="M175.1 717.2L180.3 718.1L185.4 719.5L190.5 721.1L195.7 722.9L196.6 720.8L197.5 718.8L198.4 716.8L199.3 714.8L194.3 711.9L189.2 709.1L184.2 706.5L179.2 704.5L178.2 707.7L177.2 710.9L176.1 714.1Z"/><path d="M545.3 724.4L550.5 723.4L555.6 722.4L560.7 721.7L565.9 721.1L564.9 718.7L563.8 716.2L562.8 713.7L561.8 711.1L556.8 712.3L551.8 713.7L546.7 715.4L541.7 717.1L542.6 718.9L543.5 720.8L544.4 722.6Z"/><path d="M195.7 722.9L200.8 724.6L206.0 726.3L211.1 727.8L216.2 729.0L217.1 727.7L217.9 726.3L218.7 725.0L219.5 723.8L214.4 722.1L209.4 720.0L204.4 717.5L199.3 714.8L198.4 716.8L197.5 718.8L196.6 720.8Z"/><path d="M524.8 728.4L529.9 727.5L535.0 726.6L540.2 725.5L545.3 724.4L544.4 722.6L543.5 720.8L542.6 718.9L541.7 717.1L536.6 718.8L531.6 720.4L526.6 721.8L521.5 723.1L522.3 724.4L523.1 725.7L523.9 727.0Z"/><path d="M216.2 729.0L221.4 730.0L226.5 730.8L231.7 731.3L236.8 731.7L237.5 730.6L238.2 729.4L238.9 728.3L239.6 727.2L234.6 726.8L229.5 726.1L224.5 725.1L219.5 723.8L218.7 725.0L217.9 726.3L217.1 727.7Z"/><path d="M504.2 730.5L509.3 730.2L514.5 729.7L519.6 729.1L524.8 728.4L523.9 727.0L523.1 725.7L522.3 724.4L521.5 723.1L516.5 724.1L511.5 724.8L506.4 725.4L501.4 725.9L502.1 727.0L502.8 728.2L503.5 729.3Z"/><path d="M236.8 731.7L242.0 731.9L247.1 732.1L252.2 732.2L257.4 732.2L258.0 731.1L258.6 730.0L259.2 728.9L259.7 727.8L254.7 727.8L249.7 727.7L244.6 727.5L239.6 727.2L238.9 728.3L238.2 729.4L237.5 730.6Z"/><path d="M483.6 731.2L488.8 731.1L493.9 731.0L499.0 730.8L504.2 730.5L503.5 729.3L502.8 728.2L502.1 727.0L501.4 725.9L496.4 726.2L491.3 726.4L486.3 726.6L481.3 726.7L481.8 727.8L482.4 728.9L483.0 730.1Z"/><path d="M257.4 732.2L262.5 732.2L267.7 732.1L272.8 732.0L277.9 731.9L278.4 730.7L278.9 729.6L279.4 728.4L279.9 727.3L274.8 727.5L269.8 727.7L264.8 727.8L259.7 727.8L259.2 728.9L258.6 730.0L258.0 731.1Z"/><path d="M463.1 731.1L468.2 731.2L473.3 731.2L478.5 731.2L483.6 731.2L483.0 730.1L482.4 728.9L481.8 727.8L481.3 726.7L476.2 726.7L471.2 726.7L466.2 726.6L461.1 726.5L461.6 727.6L462.1 728.8L462.6 729.9Z"/><path d="M277.9 731.9L283.1 731.7L288.2 731.4L293.4 731.0L298.5 730.6L298.9 729.3L299.3 727.9L299.6 726.6L300.0 725.2L295.0 726.0L289.9 726.5L284.9 727.0L279.9 727.3L279.4 728.4L278.9 729.6L278.4 730.7Z"/><path d="M442.5 730.1L447.6 730.5L452.8 730.8L457.9 731.0L463.1 731.1L462.6 729.9L462.1 728.8L461.6 727.6L461.1 726.5L456.1 726.2L451.1 725.9L446.0 725.4L441.0 724.7L441.4 726.1L441.7 727.4L442.1 728.7Z"/><path d="M298.5 730.6L303.7 730.0L308.8 729.3L313.9 728.5L319.1 727.5L319.4 725.8L319.6 724.0L319.9 722.2L320.2 720.4L315.1 721.9L310.1 723.2L305.0 724.3L300.0 725.2L299.6 726.6L299.3 727.9L298.9 729.3Z"/><path d="M421.9 727.2L427.1 728.1L432.2 728.9L437.3 729.6L442.5 730.1L442.1 728.7L441.7 727.4L441.4 726.1L441.0 724.7L436.0 723.9L430.9 722.8L425.9 721.6L420.8 720.1L421.1 721.9L421.4 723.7L421.6 725.5Z"/><path d="M319.1 727.5L324.2 726.5L329.4 725.3L334.5 724.1L339.6 722.8L339.8 720.5L340.0 718.0L340.1 715.5L340.3 712.9L335.3 714.8L330.2 716.8L325.2 718.6L320.2 720.4L319.9 722.2L319.6 724.0L319.4 725.8Z"/><path d="M401.4 722.7L406.5 723.9L411.6 725.1L416.8 726.2L421.9 727.2L421.6 725.5L421.4 723.7L421.1 721.9L420.8 720.1L415.8 718.4L410.8 716.6L405.7 714.7L400.7 712.8L400.9 715.4L401.0 717.9L401.2 720.3Z"/><path d="M339.6 722.8L344.8 721.7L349.9 720.6L355.1 719.7L360.2 719.0L360.3 716.1L360.3 713.1L360.4 710.0L360.4 706.8L355.4 707.9L350.4 709.3L345.3 711.0L340.3 712.9L340.1 715.5L340.0 718.0L339.8 720.5Z"/><path d="M380.8 718.9L385.9 719.6L391.1 720.5L396.2 721.5L401.4 722.7L401.2 720.3L401.0 717.9L400.9 715.4L400.7 712.8L395.7 710.9L390.6 709.2L385.6 707.8L380.6 706.8L380.6 710.0L380.7 713.0L380.7 716.0Z"/><path d="M360.2 719.0L365.4 718.5L370.5 718.4L375.6 718.5L380.8 718.9L380.7 716.0L380.7 713.0L380.6 710.0L380.6 706.8L375.5 706.1L370.5 705.9L365.5 706.1L360.4 706.8L360.4 710.0L360.3 713.1L360.3 716.1Z"/><path d="M44.8 737.5L50.0 737.4L55.3 737.4L60.5 737.4L65.8 737.3L67.4 736.3L69.1 735.2L70.7 734.2L72.3 733.2L67.1 733.2L62.0 733.3L56.9 733.4L51.7 733.4L50.0 734.4L48.3 735.4L46.5 736.4Z"/><path d="M675.2 736.7L680.5 736.8L685.7 736.9L691.0 736.9L696.2 737.0L694.5 735.9L692.7 734.8L691.0 733.8L689.3 732.7L684.1 732.6L679.0 732.4L673.9 732.3L668.7 732.2L670.3 733.3L671.9 734.4L673.6 735.6Z"/><path d="M65.8 737.3L71.1 737.3L76.3 737.2L81.6 737.2L86.8 737.1L88.3 735.9L89.9 734.8L91.4 733.7L92.8 732.5L87.7 732.8L82.6 732.9L77.4 733.1L72.3 733.2L70.7 734.2L69.1 735.2L67.4 736.3Z"/><path d="M654.2 736.3L659.4 736.4L664.7 736.5L669.9 736.6L675.2 736.7L673.6 735.6L671.9 734.4L670.3 733.3L668.7 732.2L663.6 732.0L658.4 731.8L653.3 731.6L648.2 731.3L649.6 732.6L651.1 733.8L652.7 735.0Z"/><path d="M86.8 737.1L92.1 736.9L97.3 736.8L102.6 736.5L107.8 736.2L109.2 734.9L110.6 733.5L112.0 732.0L113.4 730.5L108.3 731.2L103.1 731.8L98.0 732.2L92.8 732.5L91.4 733.7L89.9 734.8L88.3 735.9Z"/><path d="M633.2 735.4L638.4 735.7L643.7 735.9L648.9 736.1L654.2 736.3L652.7 735.0L651.1 733.8L649.6 732.6L648.2 731.3L643.0 731.0L637.9 730.6L632.7 730.1L627.6 729.5L629.0 731.1L630.4 732.5L631.8 734.0Z"/><path d="M107.8 736.2L113.1 735.8L118.3 735.3L123.6 734.6L128.8 733.8L130.1 731.9L131.4 729.8L132.7 727.6L134.0 725.2L128.8 726.8L123.7 728.3L118.6 729.5L113.4 730.5L112.0 732.0L110.6 733.5L109.2 734.9Z"/><path d="M612.2 733.6L617.4 734.2L622.7 734.6L627.9 735.0L633.2 735.4L631.8 734.0L630.4 732.5L629.0 731.1L627.6 729.5L622.4 728.8L617.3 727.9L612.2 726.9L607.0 725.9L608.3 728.0L609.6 729.9L610.9 731.8Z"/><path d="M128.8 733.8L134.1 732.9L139.3 732.0L144.6 731.0L149.9 730.1L151.0 727.5L152.2 724.6L153.4 721.6L154.5 718.4L149.4 719.9L144.3 721.6L139.1 723.4L134.0 725.2L132.7 727.6L131.4 729.8L130.1 731.9Z"/><path d="M591.1 731.3L596.4 731.8L601.7 732.4L606.9 733.0L612.2 733.6L610.9 731.8L609.6 729.9L608.3 728.0L607.0 725.9L601.9 724.8L596.7 723.7L591.6 722.7L586.5 721.9L587.6 724.4L588.8 726.8L590.0 729.1Z"/><path d="M149.9 730.1L155.1 729.3L160.4 728.8L165.6 728.5L170.9 728.5L171.9 725.8L173.0 723.0L174.1 720.2L175.1 717.2L170.0 716.7L164.8 716.8L159.7 717.4L154.5 718.4L153.4 721.6L152.2 724.6L151.0 727.5Z"/><path d="M570.1 730.4L575.4 730.4L580.6 730.6L585.9 730.9L591.1 731.3L590.0 729.1L588.8 726.8L587.6 724.4L586.5 721.9L581.3 721.2L576.2 720.9L571.0 720.9L565.9 721.1L566.9 723.5L568.0 725.9L569.1 728.2Z"/><path d="M170.9 728.5L176.1 728.8L181.4 729.4L186.6 730.1L191.9 731.0L192.8 729.0L193.8 727.0L194.7 724.9L195.7 722.9L190.5 721.1L185.4 719.5L180.3 718.1L175.1 717.2L174.1 720.2L173.0 723.0L171.9 725.8Z"/><path d="M549.1 731.8L554.4 731.3L559.6 730.9L564.9 730.6L570.1 730.4L569.1 728.2L568.0 725.9L566.9 723.5L565.9 721.1L560.7 721.7L555.6 722.4L550.5 723.4L545.3 724.4L546.3 726.3L547.2 728.1L548.2 730.0Z"/><path d="M191.9 731.0L197.1 732.0L202.4 732.9L207.6 733.8L212.9 734.5L213.7 733.1L214.6 731.7L215.4 730.4L216.2 729.0L211.1 727.8L206.0 726.3L200.8 724.6L195.7 722.9L194.7 724.9L193.8 727.0L192.8 729.0Z"/><path d="M528.1 734.1L533.4 733.6L538.6 733.0L543.9 732.4L549.1 731.8L548.2 730.0L547.2 728.1L546.3 726.3L545.3 724.4L540.2 725.5L535.0 726.6L529.9 727.5L524.8 728.4L525.6 729.8L526.4 731.2L527.3 732.6Z"/><path d="M212.9 734.5L218.2 735.2L223.4 735.6L228.7 736.0L233.9 736.3L234.6 735.1L235.4 734.0L236.1 732.8L236.8 731.7L231.7 731.3L226.5 730.8L221.4 730.0L216.2 729.0L215.4 730.4L214.6 731.7L213.7 733.1Z"/><path d="M507.1 735.4L512.3 735.2L517.6 734.9L522.8 734.5L528.1 734.1L527.3 732.6L526.4 731.2L525.6 729.8L524.8 728.4L519.6 729.1L514.5 729.7L509.3 730.2L504.2 730.5L504.9 731.7L505.6 732.9L506.4 734.2Z"/><path d="M233.9 736.3L239.2 736.5L244.4 736.6L249.7 736.6L254.9 736.7L255.5 735.5L256.2 734.4L256.8 733.3L257.4 732.2L252.2 732.2L247.1 732.1L242.0 731.9L236.8 731.7L236.1 732.8L235.4 734.0L234.6 735.1Z"/><path d="M486.1 735.9L491.3 735.8L496.6 735.7L501.8 735.6L507.1 735.4L506.4 734.2L505.6 732.9L504.9 731.7L504.2 730.5L499.0 730.8L493.9 731.0L488.8 731.1L483.6 731.2L484.2 732.4L484.8 733.5L485.5 734.7Z"/><path d="M254.9 736.7L260.2 736.7L265.4 736.6L270.7 736.6L275.9 736.5L276.4 735.3L277.0 734.2L277.5 733.0L277.9 731.9L272.8 732.0L267.7 732.1L262.5 732.2L257.4 732.2L256.8 733.3L256.2 734.4L255.5 735.5Z"/><path d="M465.1 735.9L470.3 735.9L475.6 736.0L480.8 735.9L486.1 735.9L485.5 734.7L484.8 733.5L484.2 732.4L483.6 731.2L478.5 731.2L473.3 731.2L468.2 731.2L463.1 731.1L463.5 732.3L464.0 733.5L464.6 734.7Z"/><path d="M275.9 736.5L281.2 736.4L286.4 736.2L291.7 736.0L297.0 735.8L297.3 734.5L297.7 733.2L298.1 731.9L298.5 730.6L293.4 731.0L288.2 731.4L283.1 731.7L277.9 731.9L277.5 733.0L277.0 734.2L276.4 735.3Z"/><path d="M444.0 735.4L449.3 735.6L454.6 735.7L459.8 735.8L465.1 735.9L464.6 734.7L464.0 733.5L463.5 732.3L463.1 731.1L457.9 731.0L452.8 730.8L447.6 730.5L442.5 730.1L442.9 731.4L443.3 732.7L443.7 734.0Z"/><path d="M297.0 735.8L302.2 735.4L307.5 735.1L312.7 734.6L318.0 734.1L318.2 732.5L318.5 730.9L318.8 729.2L319.1 727.5L313.9 728.5L308.8 729.3L303.7 730.0L298.5 730.6L298.1 731.9L297.7 733.2L297.3 734.5Z"/><path d="M423.0 733.9L428.3 734.3L433.5 734.8L438.8 735.1L444.0 735.4L443.7 734.0L443.3 732.7L442.9 731.4L442.5 730.1L437.3 729.6L432.2 728.9L427.1 728.1L421.9 727.2L422.2 728.9L422.5 730.6L422.8 732.2Z"/><path d="M318.0 734.1L323.2 733.5L328.5 732.9L333.7 732.2L339.0 731.5L339.1 729.5L339.3 727.3L339.5 725.1L339.6 722.8L334.5 724.1L329.4 725.3L324.2 726.5L319.1 727.5L318.8 729.2L318.5 730.9L318.2 732.5Z"/><path d="M402.0 731.4L407.3 732.1L412.5 732.7L417.8 733.3L423.0 733.9L422.8 732.2L422.5 730.6L422.2 728.9L421.9 727.2L416.8 726.2L411.6 725.1L406.5 723.9L401.4 722.7L401.5 725.0L401.7 727.2L401.9 729.3Z"/><path d="M339.0 731.5L344.2 730.9L349.5 730.3L354.7 729.8L360.0 729.4L360.0 727.0L360.1 724.4L360.2 721.7L360.2 719.0L355.1 719.7L349.9 720.6L344.8 721.7L339.6 722.8L339.5 725.1L339.3 727.3L339.1 729.5Z"/><path d="M381.0 729.4L386.3 729.7L391.5 730.2L396.8 730.8L402.0 731.4L401.9 729.3L401.7 727.2L401.5 725.0L401.4 722.7L396.2 721.5L391.1 720.5L385.9 719.6L380.8 718.9L380.8 721.7L380.9 724.4L381.0 726.9Z"/><path d="M360.0 729.4L365.2 729.2L370.5 729.1L375.8 729.2L381.0 729.4L381.0 726.9L380.9 724.4L380.8 721.7L380.8 718.9L375.6 718.5L370.5 718.4L365.4 718.5L360.2 719.0L360.2 721.7L360.1 724.4L360.0 727.0Z"/><path d="M37.6 741.7L42.9 741.6L48.3 741.6L53.7 741.6L59.0 741.6L60.8 740.5L62.5 739.5L64.1 738.4L65.8 737.3L60.5 737.4L55.3 737.4L50.0 737.4L44.8 737.5L43.0 738.5L41.2 739.5L39.4 740.6Z"/><path d="M682.0 741.3L687.3 741.3L692.7 741.4L698.1 741.4L703.4 741.4L701.6 740.3L699.8 739.2L698.0 738.1L696.2 737.0L691.0 736.9L685.7 736.9L680.5 736.8L675.2 736.7L676.9 737.8L678.5 739.0L680.2 740.1Z"/><path d="M59.0 741.6L64.4 741.6L69.8 741.6L75.1 741.5L80.5 741.5L82.1 740.4L83.7 739.3L85.3 738.2L86.8 737.1L81.6 737.2L76.3 737.2L71.1 737.3L65.8 737.3L64.1 738.4L62.5 739.5L60.8 740.5Z"/><path d="M660.5 741.1L665.9 741.2L671.2 741.2L676.6 741.3L682.0 741.3L680.2 740.1L678.5 739.0L676.9 737.8L675.2 736.7L669.9 736.6L664.7 736.5L659.4 736.4L654.2 736.3L655.7 737.5L657.3 738.7L658.9 739.9Z"/><path d="M80.5 741.5L85.9 741.5L91.3 741.4L96.6 741.4L102.0 741.3L103.5 740.0L104.9 738.8L106.4 737.5L107.8 736.2L102.6 736.5L97.3 736.8L92.1 736.9L86.8 737.1L85.3 738.2L83.7 739.3L82.1 740.4Z"/><path d="M639.0 740.8L644.4 740.9L649.7 741.0L655.1 741.0L660.5 741.1L658.9 739.9L657.3 738.7L655.7 737.5L654.2 736.3L648.9 736.1L643.7 735.9L638.4 735.7L633.2 735.4L634.6 736.8L636.1 738.1L637.5 739.5Z"/><path d="M102.0 741.3L107.4 741.1L112.7 741.0L118.1 740.7L123.5 740.5L124.8 738.9L126.2 737.3L127.5 735.6L128.8 733.8L123.6 734.6L118.3 735.3L113.1 735.8L107.8 736.2L106.4 737.5L104.9 738.8L103.5 740.0Z"/><path d="M617.5 740.2L622.9 740.4L628.3 740.5L633.6 740.7L639.0 740.8L637.5 739.5L636.1 738.1L634.6 736.8L633.2 735.4L627.9 735.0L622.7 734.6L617.4 734.2L612.2 733.6L613.5 735.3L614.8 737.0L616.2 738.6Z"/><path d="M123.5 740.5L128.8 740.2L134.2 739.8L139.6 739.4L145.0 739.1L146.2 737.0L147.4 734.9L148.7 732.6L149.9 730.1L144.6 731.0L139.3 732.0L134.1 732.9L128.8 733.8L127.5 735.6L126.2 737.3L124.8 738.9Z"/><path d="M596.0 739.2L601.4 739.5L606.8 739.7L612.2 739.9L617.5 740.2L616.2 738.6L614.8 737.0L613.5 735.3L612.2 733.6L606.9 733.0L601.7 732.4L596.4 731.8L591.1 731.3L592.3 733.4L593.6 735.4L594.8 737.4Z"/><path d="M145.0 739.1L150.3 738.7L155.7 738.4L161.1 738.2L166.4 738.1L167.6 735.9L168.7 733.6L169.8 731.1L170.9 728.5L165.6 728.5L160.4 728.8L155.1 729.3L149.9 730.1L148.7 732.6L147.4 734.9L146.2 737.0Z"/><path d="M574.6 738.7L579.9 738.7L585.3 738.9L590.7 739.0L596.0 739.2L594.8 737.4L593.6 735.4L592.3 733.4L591.1 731.3L585.9 730.9L580.6 730.6L575.4 730.4L570.1 730.4L571.2 732.6L572.3 734.7L573.4 736.7Z"/><path d="M166.4 738.1L171.8 738.2L177.2 738.3L182.5 738.5L187.9 738.8L188.9 736.9L189.9 735.0L190.9 733.0L191.9 731.0L186.6 730.1L181.4 729.4L176.1 728.8L170.9 728.5L169.8 731.1L168.7 733.6L167.6 735.9Z"/><path d="M553.1 739.1L558.5 738.9L563.8 738.8L569.2 738.7L574.6 738.7L573.4 736.7L572.3 734.7L571.2 732.6L570.1 730.4L564.9 730.6L559.6 730.9L554.4 731.3L549.1 731.8L550.1 733.7L551.1 735.5L552.1 737.3Z"/><path d="M187.9 738.8L193.3 739.2L198.7 739.6L204.0 739.9L209.4 740.2L210.3 738.8L211.2 737.4L212.0 735.9L212.9 734.5L207.6 733.8L202.4 732.9L197.1 732.0L191.9 731.0L190.9 733.0L189.9 735.0L188.9 736.9Z"/><path d="M531.6 740.0L537.0 739.7L542.3 739.5L547.7 739.3L553.1 739.1L552.1 737.3L551.1 735.5L550.1 733.7L549.1 731.8L543.9 732.4L538.6 733.0L533.4 733.6L528.1 734.1L529.0 735.5L529.8 737.0L530.7 738.5Z"/><path d="M209.4 740.2L214.8 740.5L220.1 740.7L225.5 740.9L230.9 741.1L231.6 739.8L232.4 738.6L233.2 737.5L233.9 736.3L228.7 736.0L223.4 735.6L218.2 735.2L212.9 734.5L212.0 735.9L211.2 737.4L210.3 738.8Z"/><path d="M510.1 740.6L515.5 740.5L520.9 740.3L526.2 740.2L531.6 740.0L530.7 738.5L529.8 737.0L529.0 735.5L528.1 734.1L522.8 734.5L517.6 734.9L512.3 735.2L507.1 735.4L507.8 736.7L508.6 738.0L509.4 739.3Z"/><path d="M230.9 741.1L236.2 741.1L241.6 741.2L247.0 741.2L252.4 741.2L253.0 740.1L253.7 738.9L254.3 737.8L254.9 736.7L249.7 736.6L244.4 736.6L239.2 736.5L233.9 736.3L233.2 737.5L232.4 738.6L231.6 739.8Z"/><path d="M488.6 740.8L494.0 740.8L499.4 740.7L504.8 740.7L510.1 740.6L509.4 739.3L508.6 738.0L507.8 736.7L507.1 735.4L501.8 735.6L496.6 735.7L491.3 735.8L486.1 735.9L486.7 737.1L487.3 738.3L488.0 739.6Z"/><path d="M252.4 741.2L257.7 741.2L263.1 741.2L268.5 741.2L273.8 741.2L274.4 740.0L274.9 738.8L275.4 737.6L275.9 736.5L270.7 736.6L265.4 736.6L260.2 736.7L254.9 736.7L254.3 737.8L253.7 738.9L253.0 740.1Z"/><path d="M467.2 740.9L472.5 740.9L477.9 740.9L483.3 740.9L488.6 740.8L488.0 739.6L487.3 738.3L486.7 737.1L486.1 735.9L480.8 735.9L475.6 736.0L470.3 735.9L465.1 735.9L465.6 737.1L466.1 738.4L466.6 739.6Z"/><path d="M273.8 741.2L279.2 741.1L284.6 741.1L289.9 741.0L295.3 740.9L295.7 739.6L296.1 738.3L296.6 737.0L297.0 735.8L291.7 736.0L286.4 736.2L281.2 736.4L275.9 736.5L275.4 737.6L274.9 738.8L274.4 740.0Z"/><path d="M445.7 740.7L451.1 740.7L456.4 740.8L461.8 740.8L467.2 740.9L466.6 739.6L466.1 738.4L465.6 737.1L465.1 735.9L459.8 735.8L454.6 735.7L449.3 735.6L444.0 735.4L444.4 736.7L444.9 738.0L445.3 739.3Z"/><path d="M295.3 740.9L300.7 740.7L306.1 740.6L311.4 740.4L316.8 740.2L317.1 738.7L317.4 737.2L317.7 735.7L318.0 734.1L312.7 734.6L307.5 735.1L302.2 735.4L297.0 735.8L296.6 737.0L296.1 738.3L295.7 739.6Z"/><path d="M424.2 740.1L429.6 740.3L434.9 740.4L440.3 740.5L445.7 740.7L445.3 739.3L444.9 738.0L444.4 736.7L444.0 735.4L438.8 735.1L433.5 734.8L428.3 734.3L423.0 733.9L423.3 735.4L423.6 737.0L423.9 738.5Z"/><path d="M316.8 740.2L322.2 740.0L327.5 739.7L332.9 739.5L338.3 739.2L338.5 737.4L338.6 735.5L338.8 733.5L339.0 731.5L333.7 732.2L328.5 732.9L323.2 733.5L318.0 734.1L317.7 735.7L317.4 737.2L317.1 738.7Z"/><path d="M402.7 739.1L408.1 739.4L413.5 739.6L418.8 739.9L424.2 740.1L423.9 738.5L423.6 737.0L423.3 735.4L423.0 733.9L417.8 733.3L412.5 732.7L407.3 732.1L402.0 731.4L402.2 733.4L402.4 735.4L402.5 737.3Z"/><path d="M338.3 739.2L343.6 738.9L349.0 738.7L354.4 738.5L359.8 738.3L359.8 736.2L359.9 734.0L359.9 731.8L360.0 729.4L354.7 729.8L349.5 730.3L344.2 730.9L339.0 731.5L338.8 733.5L338.6 735.5L338.5 737.4Z"/><path d="M381.2 738.3L386.6 738.5L392.0 738.6L397.4 738.9L402.7 739.1L402.5 737.3L402.4 735.4L402.2 733.4L402.0 731.4L396.8 730.8L391.5 730.2L386.3 729.7L381.0 729.4L381.1 731.7L381.1 734.0L381.2 736.2Z"/><path d="M359.8 738.3L365.1 738.2L370.5 738.2L375.9 738.2L381.2 738.3L381.2 736.2L381.1 734.0L381.1 731.7L381.0 729.4L375.8 729.2L370.5 729.1L365.2 729.2L360.0 729.4L359.9 731.8L359.9 734.0L359.8 736.2Z"/><path d="M30.0 746.0L35.5 746.0L41.0 746.0L46.5 746.0L52.0 746.0L53.8 744.9L55.5 743.8L57.3 742.7L59.0 741.6L53.7 741.6L48.3 741.6L42.9 741.6L37.6 741.7L35.7 742.7L33.8 743.8L31.9 744.9Z"/><path d="M689.0 746.0L694.5 746.0L700.0 746.0L705.5 746.0L711.0 746.0L709.1 744.8L707.2 743.7L705.3 742.6L703.4 741.4L698.1 741.4L692.7 741.4L687.3 741.3L682.0 741.3L683.7 742.5L685.5 743.6L687.2 744.8Z"/><path d="M52.0 746.0L57.5 746.0L63.0 746.0L68.4 746.0L73.9 746.0L75.6 744.9L77.3 743.7L78.9 742.6L80.5 741.5L75.1 741.5L69.8 741.6L64.4 741.6L59.0 741.6L57.3 742.7L55.5 743.8L53.8 744.9Z"/><path d="M667.1 746.0L672.6 746.0L678.0 746.0L683.5 746.0L689.0 746.0L687.2 744.8L685.5 743.6L683.7 742.5L682.0 741.3L676.6 741.3L671.2 741.2L665.9 741.2L660.5 741.1L662.1 742.3L663.7 743.5L665.4 744.8Z"/><path d="M73.9 746.0L79.4 746.0L84.9 746.0L90.4 746.0L95.9 746.0L97.5 744.8L99.0 743.6L100.5 742.5L102.0 741.3L96.6 741.4L91.3 741.4L85.9 741.5L80.5 741.5L78.9 742.6L77.3 743.7L75.6 744.9Z"/><path d="M645.1 746.0L650.6 746.0L656.1 746.0L661.6 746.0L667.1 746.0L665.4 744.8L663.7 743.5L662.1 742.3L660.5 741.1L655.1 741.0L649.7 741.0L644.4 740.9L639.0 740.8L640.5 742.1L642.0 743.4L643.5 744.7Z"/><path d="M95.9 746.0L101.4 746.0L106.9 746.0L112.4 746.0L117.9 746.0L119.3 744.7L120.7 743.3L122.1 741.9L123.5 740.5L118.1 740.7L112.7 741.0L107.4 741.1L102.0 741.3L100.5 742.5L99.0 743.6L97.5 744.8Z"/><path d="M623.1 746.0L628.6 746.0L634.1 746.0L639.6 746.0L645.1 746.0L643.5 744.7L642.0 743.4L640.5 742.1L639.0 740.8L633.6 740.7L628.3 740.5L622.9 740.4L617.5 740.2L618.9 741.7L620.3 743.1L621.7 744.6Z"/><path d="M117.9 746.0L123.4 746.0L128.9 746.0L134.3 746.0L139.8 746.0L141.1 744.4L142.4 742.7L143.7 741.0L145.0 739.1L139.6 739.4L134.2 739.8L128.8 740.2L123.5 740.5L122.1 741.9L120.7 743.3L119.3 744.7Z"/><path d="M601.2 746.0L606.7 746.0L612.1 746.0L617.6 746.0L623.1 746.0L621.7 744.6L620.3 743.1L618.9 741.7L617.5 740.2L612.2 739.9L606.8 739.7L601.4 739.5L596.0 739.2L597.3 741.0L598.6 742.7L599.9 744.4Z"/><path d="M139.8 746.0L145.3 746.0L150.8 746.0L156.3 746.0L161.8 746.0L163.0 744.2L164.1 742.3L165.3 740.3L166.4 738.1L161.1 738.2L155.7 738.4L150.3 738.7L145.0 739.1L143.7 741.0L142.4 742.7L141.1 744.4Z"/><path d="M579.2 746.0L584.7 746.0L590.2 746.0L595.7 746.0L601.2 746.0L599.9 744.4L598.6 742.7L597.3 741.0L596.0 739.2L590.7 739.0L585.3 738.9L579.9 738.7L574.6 738.7L575.7 740.6L576.9 742.5L578.0 744.3Z"/><path d="M161.8 746.0L167.3 746.0L172.8 746.0L178.3 746.0L183.8 746.0L184.8 744.3L185.9 742.5L186.9 740.7L187.9 738.8L182.5 738.5L177.2 738.3L171.8 738.2L166.4 738.1L165.3 740.3L164.1 742.3L163.0 744.2Z"/><path d="M557.2 746.0L562.7 746.0L568.2 746.0L573.7 746.0L579.2 746.0L578.0 744.3L576.9 742.5L575.7 740.6L574.6 738.7L569.2 738.7L563.8 738.8L558.5 738.9L553.1 739.1L554.1 740.8L555.1 742.6L556.2 744.3Z"/><path d="M183.8 746.0L189.3 746.0L194.8 746.0L200.2 746.0L205.7 746.0L206.7 744.6L207.6 743.1L208.5 741.7L209.4 740.2L204.0 739.9L198.7 739.6L193.3 739.2L187.9 738.8L186.9 740.7L185.9 742.5L184.8 744.3Z"/><path d="M535.3 746.0L540.8 746.0L546.2 746.0L551.7 746.0L557.2 746.0L556.2 744.3L555.1 742.6L554.1 740.8L553.1 739.1L547.7 739.3L542.3 739.5L537.0 739.7L531.6 740.0L532.5 741.5L533.4 743.0L534.3 744.5Z"/><path d="M205.7 746.0L211.2 746.0L216.7 746.0L222.2 746.0L227.7 746.0L228.5 744.7L229.3 743.5L230.1 742.3L230.9 741.1L225.5 740.9L220.1 740.7L214.8 740.5L209.4 740.2L208.5 741.7L207.6 743.1L206.7 744.6Z"/><path d="M513.3 746.0L518.8 746.0L524.3 746.0L529.8 746.0L535.3 746.0L534.3 744.5L533.4 743.0L532.5 741.5L531.6 740.0L526.2 740.2L520.9 740.3L515.5 740.5L510.1 740.6L510.9 741.9L511.7 743.3L512.5 744.6Z"/><path d="M227.7 746.0L233.2 746.0L238.7 746.0L244.2 746.0L249.7 746.0L250.4 744.8L251.0 743.6L251.7 742.4L252.4 741.2L247.0 741.2L241.6 741.2L236.2 741.1L230.9 741.1L230.1 742.3L229.3 743.5L228.5 744.7Z"/><path d="M491.3 746.0L496.8 746.0L502.3 746.0L507.8 746.0L513.3 746.0L512.5 744.6L511.7 743.3L510.9 741.9L510.1 740.6L504.8 740.7L499.4 740.7L494.0 740.8L488.6 740.8L489.3 742.1L490.0 743.4L490.6 744.7Z"/><path d="M249.7 746.0L255.2 746.0L260.7 746.0L266.2 746.0L271.6 746.0L272.2 744.8L272.8 743.6L273.3 742.4L273.8 741.2L268.5 741.2L263.1 741.2L257.7 741.2L252.4 741.2L251.7 742.4L251.0 743.6L250.4 744.8Z"/><path d="M469.4 746.0L474.8 746.0L480.3 746.0L485.8 746.0L491.3 746.0L490.6 744.7L490.0 743.4L489.3 742.1L488.6 740.8L483.3 740.9L477.9 740.9L472.5 740.9L467.2 740.9L467.7 742.1L468.2 743.4L468.8 744.7Z"/><path d="M271.6 746.0L277.1 746.0L282.6 746.0L288.1 746.0L293.6 746.0L294.0 744.7L294.5 743.4L294.9 742.2L295.3 740.9L289.9 741.0L284.6 741.1L279.2 741.1L273.8 741.2L273.3 742.4L272.8 743.6L272.2 744.8Z"/><path d="M447.4 746.0L452.9 746.0L458.4 746.0L463.9 746.0L469.4 746.0L468.8 744.7L468.2 743.4L467.7 742.1L467.2 740.9L461.8 740.8L456.4 740.8L451.1 740.7L445.7 740.7L446.1 742.0L446.5 743.3L447.0 744.7Z"/><path d="M293.6 746.0L299.1 746.0L304.6 746.0L310.1 746.0L315.6 746.0L315.9 744.6L316.2 743.1L316.5 741.7L316.8 740.2L311.4 740.4L306.1 740.6L300.7 740.7L295.3 740.9L294.9 742.2L294.5 743.4L294.0 744.7Z"/><path d="M425.4 746.0L430.9 746.0L436.4 746.0L441.9 746.0L447.4 746.0L447.0 744.7L446.5 743.3L446.1 742.0L445.7 740.7L440.3 740.5L434.9 740.4L429.6 740.3L424.2 740.1L424.5 741.6L424.8 743.1L425.1 744.5Z"/><path d="M315.6 746.0L321.1 746.0L326.6 746.0L332.1 746.0L337.5 746.0L337.7 744.4L337.9 742.7L338.1 741.0L338.3 739.2L332.9 739.5L327.5 739.7L322.2 740.0L316.8 740.2L316.5 741.7L316.2 743.1L315.9 744.6Z"/><path d="M403.5 746.0L408.9 746.0L414.4 746.0L419.9 746.0L425.4 746.0L425.1 744.5L424.8 743.1L424.5 741.6L424.2 740.1L418.8 739.9L413.5 739.6L408.1 739.4L402.7 739.1L402.9 740.9L403.1 742.6L403.3 744.3Z"/><path d="M337.5 746.0L343.0 746.0L348.5 746.0L354.0 746.0L359.5 746.0L359.6 744.2L359.6 742.3L359.7 740.3L359.8 738.3L354.4 738.5L349.0 738.7L343.6 738.9L338.3 739.2L338.1 741.0L337.9 742.7L337.7 744.4Z"/><path d="M381.5 746.0L387.0 746.0L392.5 746.0L398.0 746.0L403.5 746.0L403.3 744.3L403.1 742.6L402.9 740.9L402.7 739.1L397.4 738.9L392.0 738.6L386.6 738.5L381.2 738.3L381.3 740.3L381.4 742.3L381.4 744.2Z"/><path d="M359.5 746.0L365.0 746.0L370.5 746.0L376.0 746.0L381.5 746.0L381.4 744.2L381.4 742.3L381.3 740.3L381.2 738.3L375.9 738.2L370.5 738.2L365.1 738.2L359.8 738.3L359.7 740.3L359.6 742.3L359.6 744.2Z"/></g>
<rect x="30" y="747.6" width="682" height="33"/>
<rect x="149.3" y="701" width="37.7" height="38.1"/>
<rect x="352.7" y="701" width="37.7" height="38.1"/>
<rect x="556.6" y="701" width="37.7" height="38.1"/>
<rect x="31.4" y="863" width="684" height="8.5"/>
<path d="M32 910.4 L49 896.7 L49 923.7 Z"/>
<rect x="48" y="908.4" width="108" height="4.3"/>
<rect x="252" y="908.4" width="332.5" height="4.3"/>
<rect x="661" y="908.4" width="54.7" height="4.3"/>
<rect x="711.4" y="898.6" width="4.3" height="23"/>
<path d="M38.9 941.8Q41.8 939.1 44.6 942.0L44.1 941.4L46.4 943.7L48.8 945.9L51.3 948.0L53.8 950.0L56.4 952.0L59.0 953.8L61.8 955.6L64.5 957.3L67.4 958.9L70.3 960.4L73.3 961.8L76.3 963.2L79.4 964.5L82.6 965.7L85.9 966.8L89.2 967.8L92.6 968.8L96.1 969.6L99.6 970.4L103.2 971.1L106.9 971.7L110.7 972.3L113.2 972.7L113.2 992.9L108.1 992.4L103.9 991.8L99.6 991.1L95.5 990.3L91.4 989.4L87.4 988.4L83.5 987.3L79.6 986.1L75.7 984.8L72.0 983.4L68.3 981.9L64.7 980.3L61.1 978.5L57.7 976.7L54.3 974.8L50.9 972.8L47.7 970.6L44.5 968.4L41.4 966.1L38.3 963.6L35.4 961.1L32.5 958.5L29.7 955.8L29.8 955.8Q27.0 952.9 29.9 950.2Z"/>
<path d="M711.1 949.2Q714.2 951.7 711.7 954.7L711.8 954.6L709.3 957.4L706.7 960.2L704.0 962.8L701.2 965.3L698.4 967.7L695.4 970.0L692.4 972.3L689.2 974.4L686.0 976.3L682.8 978.2L679.4 980.0L675.9 981.7L672.4 983.2L668.8 984.7L665.1 986.0L661.4 987.2L657.5 988.4L653.6 989.4L649.7 990.3L645.6 991.1L641.5 991.8L637.3 992.4L632.2 992.9L632.2 972.7L634.7 972.3L638.4 971.7L641.9 971.1L645.4 970.4L648.8 969.7L652.1 968.8L655.3 967.9L658.5 966.8L661.5 965.7L664.5 964.5L667.4 963.2L670.2 961.9L673.0 960.4L675.6 958.9L678.2 957.3L680.7 955.6L683.2 953.8L685.5 952.0L687.8 950.0L690.1 948.0L692.2 945.9L694.3 943.7L696.3 941.4L695.8 942.1Q698.3 939.0 701.4 941.5Z"/>
<clipPath id="hl"><rect x="113" y="973" width="59.5" height="21"/></clipPath>
<path clip-path="url(#hl)" d="M103.3 974L112.3 974L93.8 993.7L84.8 993.7ZM120.3 974L129.3 974L110.8 993.7L101.8 993.7ZM137.3 974L146.3 974L127.8 993.7L118.8 993.7ZM154.3 974L163.3 974L144.8 993.7L135.8 993.7ZM171.3 974L180.3 974L161.8 993.7L152.8 993.7ZM188.3 974L197.3 974L178.8 993.7L169.8 993.7Z"/>
<clipPath id="hr"><rect x="573" y="973" width="59.5" height="21"/></clipPath>
<path clip-path="url(#hr)" d="M642.1 974L633.1 974L651.6 993.7L660.6 993.7ZM625.1 974L616.1 974L634.6 993.7L643.6 993.7ZM608.1 974L599.1 974L617.6 993.7L626.6 993.7ZM591.1 974L582.1 974L600.6 993.7L609.6 993.7ZM574.1 974L565.1 974L583.6 993.7L592.6 993.7ZM557.1 974L548.1 974L566.6 993.7L575.6 993.7Z"/>
<path d="M172.0 971.2L175.3 970.8L178.5 970.5L181.8 970.1L185.0 969.7L185.0 990.3L181.8 990.7L178.5 991.1L175.3 991.4L172.0 991.8ZM191.3 968.9L196.4 968.3L201.4 967.6L206.4 966.9L211.4 966.2L211.4 986.8L206.4 987.5L201.4 988.2L196.4 988.9L191.3 989.5ZM217.7 965.3L222.8 964.6L227.8 963.9L232.8 963.1L237.8 962.4L237.8 983.0L232.8 983.7L227.8 984.5L222.8 985.2L217.7 985.9ZM244.1 961.4L249.1 960.7L254.1 959.9L259.2 959.2L264.2 958.4L264.2 979.0L259.2 979.8L254.1 980.5L249.1 981.3L244.1 982.0ZM270.5 957.5L275.5 956.8L280.5 956.1L285.5 955.4L290.6 954.8L290.6 975.4L285.5 976.0L280.5 976.7L275.5 977.4L270.5 978.1ZM296.9 954.0L301.9 953.4L306.9 952.8L311.9 952.3L317.0 951.8L317.0 972.4L311.9 972.9L306.9 973.4L301.9 974.0L296.9 974.6ZM323.2 951.2L328.3 950.7L333.3 950.4L338.3 950.0L343.3 949.7L343.3 970.3L338.3 970.6L333.3 971.0L328.3 971.3L323.2 971.8ZM349.6 949.4L354.6 949.2L359.7 949.1L364.7 949.0L369.7 948.9L369.7 969.5L364.7 969.6L359.7 969.7L354.6 969.8L349.6 970.0ZM376.0 948.9L381.0 949.0L386.1 949.1L391.1 949.2L396.1 949.4L396.1 970.0L391.1 969.8L386.1 969.7L381.0 969.6L376.0 969.5ZM402.4 949.7L407.4 950.0L412.4 950.4L417.5 950.8L422.5 951.2L422.5 971.8L417.5 971.4L412.4 971.0L407.4 970.6L402.4 970.3ZM428.8 951.8L433.8 952.3L438.8 952.8L443.8 953.4L448.9 954.0L448.9 974.6L443.8 974.0L438.8 973.4L433.8 972.9L428.8 972.4ZM455.1 954.8L460.2 955.5L465.2 956.2L470.2 956.9L475.2 957.6L475.2 978.2L470.2 977.5L465.2 976.8L460.2 976.1L455.1 975.4ZM481.5 958.5L486.5 959.2L491.6 960.0L496.6 960.7L501.6 961.5L501.6 982.1L496.6 981.3L491.6 980.6L486.5 979.8L481.5 979.1ZM507.9 962.4L512.9 963.2L518.0 963.9L523.0 964.7L528.0 965.4L528.0 986.0L523.0 985.3L518.0 984.5L512.9 983.8L507.9 983.0ZM534.3 966.3L539.3 967.0L544.3 967.6L549.4 968.3L554.4 968.9L554.4 989.5L549.4 988.9L544.3 988.2L539.3 987.6L534.3 986.9ZM560.7 969.7L563.8 970.1L566.8 970.5L569.9 970.8L573.0 971.2L573.0 991.8L569.9 991.4L566.8 991.1L563.8 990.7L560.7 990.3Z"/>
<path d="M115.55 1005.4V1023.15H173.2V1005.4" fill="none" stroke="#000" stroke-width="4.3"/>
<path d="M182.55 1005.4V1023.15H566.1V1005.4" fill="none" stroke="#000" stroke-width="4.3"/>
<path d="M574.95 1005.4V1023.15H633.4V1005.4" fill="none" stroke="#000" stroke-width="4.3"/>
<text x="28.7" y="1094" font-size="20">コンタクトポイントに僅かなロッカー部分を与えたポジティブキャンバー。</text>
<text x="28.7" y="1117.5" font-size="20">オールマウンテンでのパフォーマンスを追求した設計。</text>
<text x="29.28" y="49.42" font-size="14.75" font-weight="bold" fill="#000" textLength="192.39" lengthAdjust="spacingAndGlyphs" stroke="#000" stroke-width="0.50" stroke-linejoin="round">TRUE TWIN COLLECTION</text>
<text x="25.04" y="139.24" font-size="91.47" font-weight="bold" fill="#000" textLength="67.36" lengthAdjust="spacingAndGlyphs" stroke="#000" stroke-width="2.00" stroke-linejoin="round">H</text>
<text x="89.47" y="139.10" font-size="84.43" font-weight="bold" fill="#000" textLength="52.28" lengthAdjust="spacingAndGlyphs" stroke="#000" stroke-width="2.00" stroke-linejoin="round">e</text>
<text x="139.14" y="139.48" font-size="81.84" font-weight="bold" fill="#000" textLength="26.72" lengthAdjust="spacingAndGlyphs" stroke="#000" stroke-width="2.00" stroke-linejoin="round">ı</text>
<text x="163.71" y="139.21" font-size="84.95" font-weight="bold" fill="#000" textLength="38.59" lengthAdjust="spacingAndGlyphs" stroke="#000" stroke-width="2.00" stroke-linejoin="round">s</text>
<text x="204.81" y="139.20" font-size="86.93" font-weight="bold" fill="#000" textLength="30.50" lengthAdjust="spacingAndGlyphs" stroke="#000" stroke-width="2.00" stroke-linejoin="round">t</text>
<text x="51.49" y="179.98" font-size="7.81" font-weight="bold" fill="#000" textLength="40.63" lengthAdjust="spacingAndGlyphs" stroke="#000" stroke-width="0.30" stroke-linejoin="round">WOMEN&#39;S</text>
<text x="57.71" y="206.54" font-size="27.02" font-weight="bold" fill="#000" textLength="27.72" lengthAdjust="spacingAndGlyphs" stroke="#000" stroke-width="0.80" stroke-linejoin="round">W</text>
<text x="52.39" y="219.81" font-size="6.62" font-weight="bold" fill="#000" textLength="39.05" lengthAdjust="spacingAndGlyphs" stroke="#000" stroke-width="0.30" stroke-linejoin="round">SPECIFIC</text>
<text x="25.65" y="305.45" font-size="33.27" font-weight="bold" fill="#000" textLength="76.94" lengthAdjust="spacingAndGlyphs" stroke="#000" stroke-width="1.40" stroke-linejoin="round">FLEX</text>
<text x="319.92" y="385.61" font-size="49.45" font-weight="bold" fill="#000" textLength="28.52" lengthAdjust="spacingAndGlyphs" stroke="#000" stroke-width="1.00" stroke-linejoin="round">5</text>
<text x="26.35" y="428.50" font-size="23.29" font-weight="bold" fill="#000" textLength="96.56" lengthAdjust="spacingAndGlyphs">PLAYFUL</text>
<text x="617.82" y="428.72" font-size="23.80" font-weight="bold" fill="#000" textLength="91.20" lengthAdjust="spacingAndGlyphs">PRECISE</text>
<text x="27.82" y="504.29" font-size="31.97" font-weight="bold" fill="#000" textLength="225.42" lengthAdjust="spacingAndGlyphs" stroke="#000" stroke-width="1.40" stroke-linejoin="round">TERRAIN MAP</text>
<text x="157.67" y="731.86" font-size="33.20" font-weight="bold" fill="#fff" textLength="20.51" lengthAdjust="spacingAndGlyphs" stroke="#fff" stroke-width="0.80" stroke-linejoin="round">7</text>
<text x="361.65" y="732.23" font-size="34.08" font-weight="bold" fill="#fff" textLength="19.65" lengthAdjust="spacingAndGlyphs" stroke="#fff" stroke-width="0.80" stroke-linejoin="round">6</text>
<text x="565.53" y="731.60" font-size="32.56" font-weight="bold" fill="#fff" textLength="18.73" lengthAdjust="spacingAndGlyphs" stroke="#fff" stroke-width="0.80" stroke-linejoin="round">5</text>
<text x="134.00" y="774.93" font-size="24.21" font-weight="bold" fill="#fff" textLength="63.52" lengthAdjust="spacingAndGlyphs" stroke="#fff" stroke-width="0.40" stroke-linejoin="round">PARK</text>
<text x="321.21" y="775.04" font-size="23.33" font-weight="bold" fill="#fff" textLength="104.97" lengthAdjust="spacingAndGlyphs" stroke="#fff" stroke-width="0.40" stroke-linejoin="round">ALL-MTN</text>
<text x="519.86" y="775.04" font-size="23.33" font-weight="bold" fill="#fff" textLength="108.05" lengthAdjust="spacingAndGlyphs" stroke="#fff" stroke-width="0.40" stroke-linejoin="round">POWDER</text>
<text x="29.90" y="852.55" font-size="33.05" font-weight="bold" fill="#000" textLength="276.93" lengthAdjust="spacingAndGlyphs" stroke="#000" stroke-width="1.40" stroke-linejoin="round">FUSION CAMBER</text>
<text x="170.28" y="919.72" font-size="23.58" font-weight="bold" fill="#000" textLength="65.32" lengthAdjust="spacingAndGlyphs">NOSE</text>
<text x="600.62" y="919.54" font-size="25.06" font-weight="bold" fill="#000" textLength="45.60" lengthAdjust="spacingAndGlyphs">TAIL</text>
<text x="97.19" y="1051.20" font-size="23.87" font-weight="bold" fill="#000" textLength="93.37" lengthAdjust="spacingAndGlyphs">ROCKER</text>
<text x="321.75" y="1050.88" font-size="23.60" font-weight="bold" fill="#000" textLength="97.70" lengthAdjust="spacingAndGlyphs">CAMBER</text>
<text x="556.81" y="1051.20" font-size="23.87" font-weight="bold" fill="#000" textLength="94.12" lengthAdjust="spacingAndGlyphs">ROCKER</text>
<circle cx="152.85" cy="80.8" r="8.6"/>
</svg>
</body></html>
